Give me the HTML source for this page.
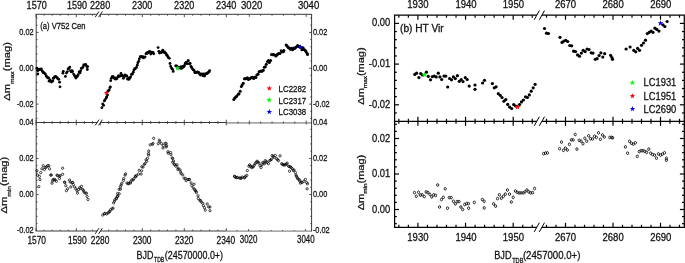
<!DOCTYPE html>
<html lang="en"><head><meta charset="utf-8"><title>Light-curve maxima and minima variations</title>
<style>
html,body{margin:0;padding:0;background:#fff;}
body{width:685px;height:263px;overflow:hidden;}
svg{display:block;}
svg text{font-family:"Liberation Sans",Arial,Helvetica,sans-serif;stroke:#111;stroke-width:0.28px;paint-order:stroke fill;}
svg{will-change:transform;opacity:0.999;}
</style></head><body>
<svg width="685" height="263" viewBox="0 0 685 263">
<rect width="685" height="263" fill="#fff"/>
<g id="panel-a">
<line x1="35.70" y1="14.30" x2="312.10" y2="14.30" stroke="#3a3a3a" stroke-width="1.0"/>
<line x1="35.70" y1="122.50" x2="226.40" y2="122.50" stroke="#3a3a3a" stroke-width="1.0"/>
<line x1="226.40" y1="122.90" x2="311.60" y2="122.90" stroke="#a6a6a6" stroke-width="1.9"/>
<line x1="35.70" y1="231.00" x2="226.40" y2="231.00" stroke="#3a3a3a" stroke-width="1.0"/>
<line x1="226.40" y1="231.10" x2="311.60" y2="231.10" stroke="#8c8c8c" stroke-width="1.4"/>
<line x1="36.20" y1="14.30" x2="36.20" y2="231.00" stroke="#3a3a3a" stroke-width="1.0"/>
<line x1="311.60" y1="14.30" x2="311.60" y2="231.50" stroke="#3a3a3a" stroke-width="1.0"/>
<line x1="44.14" y1="14.30" x2="44.14" y2="15.70" stroke="#3a3a3a" stroke-width="0.9"/>
<line x1="44.14" y1="121.10" x2="44.14" y2="123.90" stroke="#3a3a3a" stroke-width="0.9"/>
<line x1="44.14" y1="229.60" x2="44.14" y2="231.00" stroke="#3a3a3a" stroke-width="0.9"/>
<line x1="52.18" y1="14.30" x2="52.18" y2="15.70" stroke="#3a3a3a" stroke-width="0.9"/>
<line x1="52.18" y1="121.10" x2="52.18" y2="123.90" stroke="#3a3a3a" stroke-width="0.9"/>
<line x1="52.18" y1="229.60" x2="52.18" y2="231.00" stroke="#3a3a3a" stroke-width="0.9"/>
<line x1="60.22" y1="14.30" x2="60.22" y2="15.70" stroke="#3a3a3a" stroke-width="0.9"/>
<line x1="60.22" y1="121.10" x2="60.22" y2="123.90" stroke="#3a3a3a" stroke-width="0.9"/>
<line x1="60.22" y1="229.60" x2="60.22" y2="231.00" stroke="#3a3a3a" stroke-width="0.9"/>
<line x1="68.26" y1="14.30" x2="68.26" y2="15.70" stroke="#3a3a3a" stroke-width="0.9"/>
<line x1="68.26" y1="121.10" x2="68.26" y2="123.90" stroke="#3a3a3a" stroke-width="0.9"/>
<line x1="68.26" y1="229.60" x2="68.26" y2="231.00" stroke="#3a3a3a" stroke-width="0.9"/>
<line x1="84.34" y1="14.30" x2="84.34" y2="15.70" stroke="#3a3a3a" stroke-width="0.9"/>
<line x1="84.34" y1="121.10" x2="84.34" y2="123.90" stroke="#3a3a3a" stroke-width="0.9"/>
<line x1="84.34" y1="229.60" x2="84.34" y2="231.00" stroke="#3a3a3a" stroke-width="0.9"/>
<line x1="92.38" y1="14.30" x2="92.38" y2="15.70" stroke="#3a3a3a" stroke-width="0.9"/>
<line x1="92.38" y1="121.10" x2="92.38" y2="123.90" stroke="#3a3a3a" stroke-width="0.9"/>
<line x1="92.38" y1="229.60" x2="92.38" y2="231.00" stroke="#3a3a3a" stroke-width="0.9"/>
<line x1="108.70" y1="14.30" x2="108.70" y2="15.70" stroke="#3a3a3a" stroke-width="0.9"/>
<line x1="108.70" y1="121.10" x2="108.70" y2="123.90" stroke="#3a3a3a" stroke-width="0.9"/>
<line x1="108.70" y1="229.60" x2="108.70" y2="231.00" stroke="#3a3a3a" stroke-width="0.9"/>
<line x1="117.10" y1="14.30" x2="117.10" y2="15.70" stroke="#3a3a3a" stroke-width="0.9"/>
<line x1="117.10" y1="121.10" x2="117.10" y2="123.90" stroke="#3a3a3a" stroke-width="0.9"/>
<line x1="117.10" y1="229.60" x2="117.10" y2="231.00" stroke="#3a3a3a" stroke-width="0.9"/>
<line x1="125.50" y1="14.30" x2="125.50" y2="15.70" stroke="#3a3a3a" stroke-width="0.9"/>
<line x1="125.50" y1="121.10" x2="125.50" y2="123.90" stroke="#3a3a3a" stroke-width="0.9"/>
<line x1="125.50" y1="229.60" x2="125.50" y2="231.00" stroke="#3a3a3a" stroke-width="0.9"/>
<line x1="133.90" y1="14.30" x2="133.90" y2="15.70" stroke="#3a3a3a" stroke-width="0.9"/>
<line x1="133.90" y1="121.10" x2="133.90" y2="123.90" stroke="#3a3a3a" stroke-width="0.9"/>
<line x1="133.90" y1="229.60" x2="133.90" y2="231.00" stroke="#3a3a3a" stroke-width="0.9"/>
<line x1="150.70" y1="14.30" x2="150.70" y2="15.70" stroke="#3a3a3a" stroke-width="0.9"/>
<line x1="150.70" y1="121.10" x2="150.70" y2="123.90" stroke="#3a3a3a" stroke-width="0.9"/>
<line x1="150.70" y1="229.60" x2="150.70" y2="231.00" stroke="#3a3a3a" stroke-width="0.9"/>
<line x1="159.10" y1="14.30" x2="159.10" y2="15.70" stroke="#3a3a3a" stroke-width="0.9"/>
<line x1="159.10" y1="121.10" x2="159.10" y2="123.90" stroke="#3a3a3a" stroke-width="0.9"/>
<line x1="159.10" y1="229.60" x2="159.10" y2="231.00" stroke="#3a3a3a" stroke-width="0.9"/>
<line x1="167.50" y1="14.30" x2="167.50" y2="15.70" stroke="#3a3a3a" stroke-width="0.9"/>
<line x1="167.50" y1="121.10" x2="167.50" y2="123.90" stroke="#3a3a3a" stroke-width="0.9"/>
<line x1="167.50" y1="229.60" x2="167.50" y2="231.00" stroke="#3a3a3a" stroke-width="0.9"/>
<line x1="175.90" y1="14.30" x2="175.90" y2="15.70" stroke="#3a3a3a" stroke-width="0.9"/>
<line x1="175.90" y1="121.10" x2="175.90" y2="123.90" stroke="#3a3a3a" stroke-width="0.9"/>
<line x1="175.90" y1="229.60" x2="175.90" y2="231.00" stroke="#3a3a3a" stroke-width="0.9"/>
<line x1="192.70" y1="14.30" x2="192.70" y2="15.70" stroke="#3a3a3a" stroke-width="0.9"/>
<line x1="192.70" y1="121.10" x2="192.70" y2="123.90" stroke="#3a3a3a" stroke-width="0.9"/>
<line x1="192.70" y1="229.60" x2="192.70" y2="231.00" stroke="#3a3a3a" stroke-width="0.9"/>
<line x1="201.10" y1="14.30" x2="201.10" y2="15.70" stroke="#3a3a3a" stroke-width="0.9"/>
<line x1="201.10" y1="121.10" x2="201.10" y2="123.90" stroke="#3a3a3a" stroke-width="0.9"/>
<line x1="201.10" y1="229.60" x2="201.10" y2="231.00" stroke="#3a3a3a" stroke-width="0.9"/>
<line x1="209.50" y1="14.30" x2="209.50" y2="15.70" stroke="#3a3a3a" stroke-width="0.9"/>
<line x1="209.50" y1="121.10" x2="209.50" y2="123.90" stroke="#3a3a3a" stroke-width="0.9"/>
<line x1="209.50" y1="229.60" x2="209.50" y2="231.00" stroke="#3a3a3a" stroke-width="0.9"/>
<line x1="217.90" y1="14.30" x2="217.90" y2="15.70" stroke="#3a3a3a" stroke-width="0.9"/>
<line x1="217.90" y1="121.10" x2="217.90" y2="123.90" stroke="#3a3a3a" stroke-width="0.9"/>
<line x1="217.90" y1="229.60" x2="217.90" y2="231.00" stroke="#3a3a3a" stroke-width="0.9"/>
<line x1="36.10" y1="14.30" x2="36.10" y2="17.10" stroke="#3a3a3a" stroke-width="0.9"/>
<line x1="36.10" y1="119.70" x2="36.10" y2="125.30" stroke="#3a3a3a" stroke-width="0.9"/>
<line x1="36.10" y1="228.20" x2="36.10" y2="231.00" stroke="#3a3a3a" stroke-width="0.9"/>
<line x1="76.30" y1="14.30" x2="76.30" y2="17.10" stroke="#3a3a3a" stroke-width="0.9"/>
<line x1="76.30" y1="119.70" x2="76.30" y2="125.30" stroke="#3a3a3a" stroke-width="0.9"/>
<line x1="76.30" y1="228.20" x2="76.30" y2="231.00" stroke="#3a3a3a" stroke-width="0.9"/>
<line x1="100.30" y1="14.30" x2="100.30" y2="17.10" stroke="#3a3a3a" stroke-width="0.9"/>
<line x1="100.30" y1="119.70" x2="100.30" y2="125.30" stroke="#3a3a3a" stroke-width="0.9"/>
<line x1="100.30" y1="228.20" x2="100.30" y2="231.00" stroke="#3a3a3a" stroke-width="0.9"/>
<line x1="142.30" y1="14.30" x2="142.30" y2="17.10" stroke="#3a3a3a" stroke-width="0.9"/>
<line x1="142.30" y1="119.70" x2="142.30" y2="125.30" stroke="#3a3a3a" stroke-width="0.9"/>
<line x1="142.30" y1="228.20" x2="142.30" y2="231.00" stroke="#3a3a3a" stroke-width="0.9"/>
<line x1="184.30" y1="14.30" x2="184.30" y2="17.10" stroke="#3a3a3a" stroke-width="0.9"/>
<line x1="184.30" y1="119.70" x2="184.30" y2="125.30" stroke="#3a3a3a" stroke-width="0.9"/>
<line x1="184.30" y1="228.20" x2="184.30" y2="231.00" stroke="#3a3a3a" stroke-width="0.9"/>
<line x1="226.30" y1="14.30" x2="226.30" y2="17.10" stroke="#3a3a3a" stroke-width="0.9"/>
<line x1="226.30" y1="119.70" x2="226.30" y2="125.30" stroke="#3a3a3a" stroke-width="0.9"/>
<line x1="226.30" y1="228.20" x2="226.30" y2="231.00" stroke="#3a3a3a" stroke-width="0.9"/>
<line x1="237.92" y1="14.30" x2="237.92" y2="15.80" stroke="#444" stroke-width="0.9"/>
<line x1="237.92" y1="121.50" x2="237.92" y2="123.50" stroke="#444" stroke-width="0.9"/>
<line x1="237.12" y1="230.00" x2="237.12" y2="231.00" stroke="#444" stroke-width="0.9"/>
<line x1="260.68" y1="14.30" x2="260.68" y2="15.80" stroke="#444" stroke-width="0.9"/>
<line x1="260.68" y1="121.50" x2="260.68" y2="123.50" stroke="#444" stroke-width="0.9"/>
<line x1="259.88" y1="230.00" x2="259.88" y2="231.00" stroke="#444" stroke-width="0.9"/>
<line x1="272.06" y1="14.30" x2="272.06" y2="15.80" stroke="#444" stroke-width="0.9"/>
<line x1="272.06" y1="121.50" x2="272.06" y2="123.50" stroke="#444" stroke-width="0.9"/>
<line x1="271.26" y1="230.00" x2="271.26" y2="231.00" stroke="#444" stroke-width="0.9"/>
<line x1="283.44" y1="14.30" x2="283.44" y2="15.80" stroke="#444" stroke-width="0.9"/>
<line x1="283.44" y1="121.50" x2="283.44" y2="123.50" stroke="#444" stroke-width="0.9"/>
<line x1="282.64" y1="230.00" x2="282.64" y2="231.00" stroke="#444" stroke-width="0.9"/>
<line x1="294.82" y1="14.30" x2="294.82" y2="15.80" stroke="#444" stroke-width="0.9"/>
<line x1="294.82" y1="121.50" x2="294.82" y2="123.50" stroke="#444" stroke-width="0.9"/>
<line x1="294.02" y1="230.00" x2="294.02" y2="231.00" stroke="#444" stroke-width="0.9"/>
<line x1="249.30" y1="14.30" x2="249.30" y2="16.80" stroke="#444" stroke-width="0.9"/>
<line x1="249.30" y1="120.60" x2="249.30" y2="124.40" stroke="#444" stroke-width="0.9"/>
<line x1="248.50" y1="229.10" x2="248.50" y2="231.00" stroke="#444" stroke-width="0.9"/>
<line x1="306.20" y1="14.30" x2="306.20" y2="16.80" stroke="#444" stroke-width="0.9"/>
<line x1="306.20" y1="120.60" x2="306.20" y2="124.40" stroke="#444" stroke-width="0.9"/>
<line x1="305.40" y1="229.10" x2="305.40" y2="231.00" stroke="#444" stroke-width="0.9"/>
<polygon points="95.25,17.10 98.95,11.50 102.35,11.50 98.65,17.10" fill="#fff"/>
<line x1="95.25" y1="17.10" x2="98.95" y2="11.50" stroke="#1a1a1a" stroke-width="1.0"/>
<line x1="98.65" y1="17.10" x2="102.35" y2="11.50" stroke="#1a1a1a" stroke-width="1.0"/>
<polygon points="95.25,125.30 98.95,119.70 102.35,119.70 98.65,125.30" fill="#fff"/>
<line x1="95.25" y1="125.30" x2="98.95" y2="119.70" stroke="#1a1a1a" stroke-width="1.0"/>
<line x1="98.65" y1="125.30" x2="102.35" y2="119.70" stroke="#1a1a1a" stroke-width="1.0"/>
<polygon points="95.25,233.80 98.95,228.20 102.35,228.20 98.65,233.80" fill="#fff"/>
<line x1="95.25" y1="233.80" x2="98.95" y2="228.20" stroke="#1a1a1a" stroke-width="1.0"/>
<line x1="98.65" y1="233.80" x2="102.35" y2="228.20" stroke="#1a1a1a" stroke-width="1.0"/>
<line x1="36.20" y1="118.44" x2="37.50" y2="118.44" stroke="#3a3a3a" stroke-width="0.9"/>
<line x1="310.30" y1="118.44" x2="311.60" y2="118.44" stroke="#3a3a3a" stroke-width="0.9"/>
<line x1="36.20" y1="111.27" x2="37.50" y2="111.27" stroke="#3a3a3a" stroke-width="0.9"/>
<line x1="310.30" y1="111.27" x2="311.60" y2="111.27" stroke="#3a3a3a" stroke-width="0.9"/>
<line x1="36.20" y1="104.10" x2="38.60" y2="104.10" stroke="#3a3a3a" stroke-width="0.9"/>
<line x1="309.20" y1="104.10" x2="311.60" y2="104.10" stroke="#3a3a3a" stroke-width="0.9"/>
<line x1="36.20" y1="96.93" x2="37.50" y2="96.93" stroke="#3a3a3a" stroke-width="0.9"/>
<line x1="310.30" y1="96.93" x2="311.60" y2="96.93" stroke="#3a3a3a" stroke-width="0.9"/>
<line x1="36.20" y1="89.76" x2="37.50" y2="89.76" stroke="#3a3a3a" stroke-width="0.9"/>
<line x1="310.30" y1="89.76" x2="311.60" y2="89.76" stroke="#3a3a3a" stroke-width="0.9"/>
<line x1="36.20" y1="82.59" x2="37.50" y2="82.59" stroke="#3a3a3a" stroke-width="0.9"/>
<line x1="310.30" y1="82.59" x2="311.60" y2="82.59" stroke="#3a3a3a" stroke-width="0.9"/>
<line x1="36.20" y1="75.42" x2="37.50" y2="75.42" stroke="#3a3a3a" stroke-width="0.9"/>
<line x1="310.30" y1="75.42" x2="311.60" y2="75.42" stroke="#3a3a3a" stroke-width="0.9"/>
<line x1="36.20" y1="68.25" x2="38.60" y2="68.25" stroke="#3a3a3a" stroke-width="0.9"/>
<line x1="309.20" y1="68.25" x2="311.60" y2="68.25" stroke="#3a3a3a" stroke-width="0.9"/>
<line x1="36.20" y1="61.08" x2="37.50" y2="61.08" stroke="#3a3a3a" stroke-width="0.9"/>
<line x1="310.30" y1="61.08" x2="311.60" y2="61.08" stroke="#3a3a3a" stroke-width="0.9"/>
<line x1="36.20" y1="53.91" x2="37.50" y2="53.91" stroke="#3a3a3a" stroke-width="0.9"/>
<line x1="310.30" y1="53.91" x2="311.60" y2="53.91" stroke="#3a3a3a" stroke-width="0.9"/>
<line x1="36.20" y1="46.74" x2="37.50" y2="46.74" stroke="#3a3a3a" stroke-width="0.9"/>
<line x1="310.30" y1="46.74" x2="311.60" y2="46.74" stroke="#3a3a3a" stroke-width="0.9"/>
<line x1="36.20" y1="39.57" x2="37.50" y2="39.57" stroke="#3a3a3a" stroke-width="0.9"/>
<line x1="310.30" y1="39.57" x2="311.60" y2="39.57" stroke="#3a3a3a" stroke-width="0.9"/>
<line x1="36.20" y1="32.40" x2="38.60" y2="32.40" stroke="#3a3a3a" stroke-width="0.9"/>
<line x1="309.20" y1="32.40" x2="311.60" y2="32.40" stroke="#3a3a3a" stroke-width="0.9"/>
<line x1="36.20" y1="25.23" x2="37.50" y2="25.23" stroke="#3a3a3a" stroke-width="0.9"/>
<line x1="310.30" y1="25.23" x2="311.60" y2="25.23" stroke="#3a3a3a" stroke-width="0.9"/>
<line x1="36.20" y1="18.06" x2="37.50" y2="18.06" stroke="#3a3a3a" stroke-width="0.9"/>
<line x1="310.30" y1="18.06" x2="311.60" y2="18.06" stroke="#3a3a3a" stroke-width="0.9"/>
<line x1="36.20" y1="223.56" x2="37.50" y2="223.56" stroke="#3a3a3a" stroke-width="0.9"/>
<line x1="310.30" y1="223.56" x2="311.60" y2="223.56" stroke="#3a3a3a" stroke-width="0.9"/>
<line x1="36.20" y1="216.32" x2="37.50" y2="216.32" stroke="#3a3a3a" stroke-width="0.9"/>
<line x1="310.30" y1="216.32" x2="311.60" y2="216.32" stroke="#3a3a3a" stroke-width="0.9"/>
<line x1="36.20" y1="209.08" x2="37.50" y2="209.08" stroke="#3a3a3a" stroke-width="0.9"/>
<line x1="310.30" y1="209.08" x2="311.60" y2="209.08" stroke="#3a3a3a" stroke-width="0.9"/>
<line x1="36.20" y1="201.84" x2="37.50" y2="201.84" stroke="#3a3a3a" stroke-width="0.9"/>
<line x1="310.30" y1="201.84" x2="311.60" y2="201.84" stroke="#3a3a3a" stroke-width="0.9"/>
<line x1="36.20" y1="194.60" x2="38.60" y2="194.60" stroke="#3a3a3a" stroke-width="0.9"/>
<line x1="309.20" y1="194.60" x2="311.60" y2="194.60" stroke="#3a3a3a" stroke-width="0.9"/>
<line x1="36.20" y1="187.36" x2="37.50" y2="187.36" stroke="#3a3a3a" stroke-width="0.9"/>
<line x1="310.30" y1="187.36" x2="311.60" y2="187.36" stroke="#3a3a3a" stroke-width="0.9"/>
<line x1="36.20" y1="180.12" x2="37.50" y2="180.12" stroke="#3a3a3a" stroke-width="0.9"/>
<line x1="310.30" y1="180.12" x2="311.60" y2="180.12" stroke="#3a3a3a" stroke-width="0.9"/>
<line x1="36.20" y1="172.88" x2="37.50" y2="172.88" stroke="#3a3a3a" stroke-width="0.9"/>
<line x1="310.30" y1="172.88" x2="311.60" y2="172.88" stroke="#3a3a3a" stroke-width="0.9"/>
<line x1="36.20" y1="165.64" x2="37.50" y2="165.64" stroke="#3a3a3a" stroke-width="0.9"/>
<line x1="310.30" y1="165.64" x2="311.60" y2="165.64" stroke="#3a3a3a" stroke-width="0.9"/>
<line x1="36.20" y1="158.40" x2="38.60" y2="158.40" stroke="#3a3a3a" stroke-width="0.9"/>
<line x1="309.20" y1="158.40" x2="311.60" y2="158.40" stroke="#3a3a3a" stroke-width="0.9"/>
<line x1="36.20" y1="151.16" x2="37.50" y2="151.16" stroke="#3a3a3a" stroke-width="0.9"/>
<line x1="310.30" y1="151.16" x2="311.60" y2="151.16" stroke="#3a3a3a" stroke-width="0.9"/>
<line x1="36.20" y1="143.92" x2="37.50" y2="143.92" stroke="#3a3a3a" stroke-width="0.9"/>
<line x1="310.30" y1="143.92" x2="311.60" y2="143.92" stroke="#3a3a3a" stroke-width="0.9"/>
<line x1="36.20" y1="136.68" x2="37.50" y2="136.68" stroke="#3a3a3a" stroke-width="0.9"/>
<line x1="310.30" y1="136.68" x2="311.60" y2="136.68" stroke="#3a3a3a" stroke-width="0.9"/>
<line x1="36.20" y1="129.44" x2="37.50" y2="129.44" stroke="#3a3a3a" stroke-width="0.9"/>
<line x1="310.30" y1="129.44" x2="311.60" y2="129.44" stroke="#3a3a3a" stroke-width="0.9"/>
<text transform="translate(36.70,9.10) scale(0.855,1)" font-size="10.6" text-anchor="middle" fill="#111" >1570</text>
<text transform="translate(77.00,9.10) scale(0.855,1)" font-size="10.6" text-anchor="middle" fill="#111" >1590</text>
<text transform="translate(100.10,9.10) scale(0.855,1)" font-size="10.6" text-anchor="middle" fill="#111" >2280</text>
<text transform="translate(142.20,9.10) scale(0.855,1)" font-size="10.6" text-anchor="middle" fill="#111" >2300</text>
<text transform="translate(184.20,9.10) scale(0.855,1)" font-size="10.6" text-anchor="middle" fill="#111" >2320</text>
<text transform="translate(226.20,9.10) scale(0.855,1)" font-size="10.6" text-anchor="middle" fill="#111" >2340</text>
<text transform="translate(251.70,9.10) scale(0.905,1)" font-size="10.6" text-anchor="middle" fill="#111" >3020</text>
<text transform="translate(308.60,9.10) scale(0.905,1)" font-size="10.6" text-anchor="middle" fill="#111" >3040</text>
<text transform="translate(36.70,244.00) scale(0.79,1)" font-size="10.6" text-anchor="middle" fill="#111" >1570</text>
<text transform="translate(77.30,244.00) scale(0.79,1)" font-size="10.6" text-anchor="middle" fill="#111" >1590</text>
<text transform="translate(100.10,244.00) scale(0.79,1)" font-size="10.6" text-anchor="middle" fill="#111" >2280</text>
<text transform="translate(142.20,244.00) scale(0.79,1)" font-size="10.6" text-anchor="middle" fill="#111" >2300</text>
<text transform="translate(184.20,244.00) scale(0.79,1)" font-size="10.6" text-anchor="middle" fill="#111" >2320</text>
<text transform="translate(225.80,244.10) scale(0.79,1)" font-size="10.6" text-anchor="middle" fill="#111" >2340</text>
<text transform="translate(248.60,243.10) scale(0.765,1)" font-size="10.4" text-anchor="middle" fill="#111" >3020</text>
<text transform="translate(305.80,243.10) scale(0.765,1)" font-size="10.4" text-anchor="middle" fill="#111" >3040</text>
<text transform="translate(33.60,35.00) scale(0.785,1)" font-size="9.4" text-anchor="end" fill="#111" >0.02</text>
<text transform="translate(33.60,70.80) scale(0.785,1)" font-size="9.4" text-anchor="end" fill="#111" >0.00</text>
<text transform="translate(33.60,107.10) scale(0.785,1)" font-size="9.4" text-anchor="end" fill="#111" >-0.02</text>
<text transform="translate(33.60,125.00) scale(0.785,1)" font-size="9.4" text-anchor="end" fill="#111" >0.04</text>
<text transform="translate(33.60,160.90) scale(0.785,1)" font-size="9.4" text-anchor="end" fill="#111" >0.02</text>
<text transform="translate(33.60,197.10) scale(0.785,1)" font-size="9.4" text-anchor="end" fill="#111" >0.00</text>
<text transform="translate(33.60,233.00) scale(0.785,1)" font-size="9.4" text-anchor="end" fill="#111" >-0.02</text>
<text transform="translate(312.90,34.90) scale(0.785,1)" font-size="9.4" text-anchor="start" fill="#111" >0.02</text>
<text transform="translate(312.90,71.00) scale(0.785,1)" font-size="9.4" text-anchor="start" fill="#111" >0.00</text>
<text transform="translate(312.90,107.30) scale(0.785,1)" font-size="9.4" text-anchor="start" fill="#111" >-0.02</text>
<text transform="translate(312.90,124.70) scale(0.785,1)" font-size="9.4" text-anchor="start" fill="#111" >0.04</text>
<text transform="translate(312.90,160.60) scale(0.785,1)" font-size="9.4" text-anchor="start" fill="#111" >0.02</text>
<text transform="translate(312.90,196.80) scale(0.785,1)" font-size="9.4" text-anchor="start" fill="#111" >0.00</text>
<text transform="translate(312.90,232.60) scale(0.785,1)" font-size="9.4" text-anchor="start" fill="#111" >-0.02</text>
<text transform="translate(40.20,29.00) scale(0.82,1)" font-size="9.3" text-anchor="start" fill="#111" >(a) V752 Cen</text>
<text transform="translate(9.80,71.40) rotate(-90) scale(1,0.82)" font-size="11.2" text-anchor="middle" fill="#111">Δm<tspan font-size="6.7" dy="5.00">max</tspan><tspan dy="-5.00">(mag)</tspan></text>
<text transform="translate(7.30,185.10) rotate(-90) scale(1,0.82)" font-size="11.2" text-anchor="middle" fill="#111">Δm<tspan font-size="6.7" dy="5.00">min</tspan><tspan dy="-5.00">(mag)</tspan></text>
<text transform="translate(136.6,258.7) scale(0.80,1)" font-size="11.2" fill="#111">BJD</text>
<text transform="translate(154.0,262.2) scale(0.78,1)" font-size="6.6" fill="#111">TDB</text>
<text transform="translate(164.8,258.7) scale(0.797,1)" font-size="11.2" fill="#111">(24570000.0+)</text>
<g fill="#000">
<circle cx="36.9" cy="68.2" r="1.4"/>
<circle cx="37.8" cy="73.9" r="1.4"/>
<circle cx="37.6" cy="70.5" r="1.4"/>
<circle cx="38.2" cy="70.3" r="1.4"/>
<circle cx="39.3" cy="69.3" r="1.4"/>
<circle cx="39.8" cy="69.2" r="1.4"/>
<circle cx="40.8" cy="69.6" r="1.4"/>
<circle cx="41.4" cy="68.9" r="1.4"/>
<circle cx="42.4" cy="71.2" r="1.4"/>
<circle cx="43.2" cy="72.6" r="1.4"/>
<circle cx="43.8" cy="72.7" r="1.4"/>
<circle cx="44.9" cy="73.7" r="1.4"/>
<circle cx="45.3" cy="74.1" r="1.4"/>
<circle cx="46.2" cy="76.0" r="1.4"/>
<circle cx="46.9" cy="76.8" r="1.4"/>
<circle cx="47.8" cy="77.9" r="1.4"/>
<circle cx="48.7" cy="77.8" r="1.4"/>
<circle cx="49.1" cy="81.2" r="1.4"/>
<circle cx="49.9" cy="80.0" r="1.4"/>
<circle cx="50.7" cy="81.0" r="1.4"/>
<circle cx="51.5" cy="82.0" r="1.4"/>
<circle cx="52.8" cy="81.0" r="1.4"/>
<circle cx="53.3" cy="78.3" r="1.4"/>
<circle cx="53.9" cy="78.0" r="1.4"/>
<circle cx="54.7" cy="76.8" r="1.4"/>
<circle cx="55.6" cy="76.3" r="1.4"/>
<circle cx="56.4" cy="77.1" r="1.4"/>
<circle cx="57.3" cy="77.9" r="1.4"/>
<circle cx="58.0" cy="78.9" r="1.4"/>
<circle cx="58.8" cy="79.3" r="1.4"/>
<circle cx="59.6" cy="82.2" r="1.4"/>
<circle cx="60.0" cy="86.8" r="1.4"/>
<circle cx="62.9" cy="73.2" r="1.4"/>
<circle cx="63.3" cy="71.3" r="1.4"/>
<circle cx="65.4" cy="76.4" r="1.4"/>
<circle cx="66.5" cy="73.0" r="1.4"/>
<circle cx="67.4" cy="71.6" r="1.4"/>
<circle cx="68.1" cy="68.9" r="1.4"/>
<circle cx="68.9" cy="68.4" r="1.4"/>
<circle cx="69.8" cy="67.1" r="1.4"/>
<circle cx="70.5" cy="70.8" r="1.4"/>
<circle cx="71.2" cy="71.8" r="1.4"/>
<circle cx="72.0" cy="70.6" r="1.4"/>
<circle cx="72.6" cy="71.6" r="1.4"/>
<circle cx="73.6" cy="74.1" r="1.4"/>
<circle cx="74.4" cy="75.4" r="1.4"/>
<circle cx="75.2" cy="76.7" r="1.4"/>
<circle cx="75.9" cy="78.1" r="1.4"/>
<circle cx="76.9" cy="76.1" r="1.4"/>
<circle cx="77.3" cy="76.6" r="1.4"/>
<circle cx="78.2" cy="74.7" r="1.4"/>
<circle cx="79.1" cy="71.9" r="1.4"/>
<circle cx="80.1" cy="72.8" r="1.4"/>
<circle cx="80.6" cy="70.8" r="1.4"/>
<circle cx="81.3" cy="68.4" r="1.4"/>
<circle cx="82.1" cy="68.1" r="1.4"/>
<circle cx="83.0" cy="67.1" r="1.4"/>
<circle cx="83.7" cy="64.9" r="1.4"/>
<circle cx="84.3" cy="65.1" r="1.4"/>
<circle cx="85.4" cy="64.6" r="1.4"/>
<circle cx="85.8" cy="64.6" r="1.4"/>
<circle cx="86.8" cy="66.6" r="1.4"/>
<circle cx="87.7" cy="66.6" r="1.4"/>
<circle cx="87.3" cy="69.5" r="1.4"/>
<circle cx="101.9" cy="107.7" r="1.4"/>
<circle cx="102.7" cy="103.9" r="1.4"/>
<circle cx="103.6" cy="105.3" r="1.4"/>
<circle cx="104.4" cy="100.9" r="1.4"/>
<circle cx="105.1" cy="99.6" r="1.4"/>
<circle cx="106.2" cy="98.0" r="1.4"/>
<circle cx="106.7" cy="96.8" r="1.4"/>
<circle cx="107.5" cy="95.0" r="1.4"/>
<circle cx="108.2" cy="90.9" r="1.4"/>
<circle cx="109.2" cy="89.9" r="1.4"/>
<circle cx="110.0" cy="87.6" r="1.4"/>
<circle cx="110.3" cy="86.8" r="1.4"/>
<circle cx="110.7" cy="80.7" r="1.4"/>
<circle cx="111.3" cy="78.3" r="1.4"/>
<circle cx="112.2" cy="76.6" r="1.4"/>
<circle cx="113.2" cy="76.7" r="1.4"/>
<circle cx="114.0" cy="77.9" r="1.4"/>
<circle cx="114.7" cy="78.6" r="1.4"/>
<circle cx="115.6" cy="79.2" r="1.4"/>
<circle cx="116.2" cy="77.8" r="1.4"/>
<circle cx="116.9" cy="78.7" r="1.4"/>
<circle cx="118.1" cy="76.9" r="1.4"/>
<circle cx="118.6" cy="75.7" r="1.4"/>
<circle cx="119.5" cy="76.3" r="1.4"/>
<circle cx="120.6" cy="75.9" r="1.4"/>
<circle cx="121.0" cy="73.5" r="1.4"/>
<circle cx="122.1" cy="75.4" r="1.4"/>
<circle cx="122.5" cy="75.7" r="1.4"/>
<circle cx="123.3" cy="78.3" r="1.4"/>
<circle cx="124.4" cy="76.5" r="1.4"/>
<circle cx="125.1" cy="74.8" r="1.4"/>
<circle cx="125.9" cy="75.8" r="1.4"/>
<circle cx="126.8" cy="76.0" r="1.4"/>
<circle cx="127.4" cy="79.0" r="1.4"/>
<circle cx="128.5" cy="77.9" r="1.4"/>
<circle cx="128.9" cy="79.4" r="1.4"/>
<circle cx="130.0" cy="78.1" r="1.4"/>
<circle cx="130.6" cy="76.8" r="1.4"/>
<circle cx="131.4" cy="74.4" r="1.4"/>
<circle cx="132.5" cy="74.0" r="1.4"/>
<circle cx="133.3" cy="72.2" r="1.4"/>
<circle cx="133.9" cy="70.1" r="1.4"/>
<circle cx="134.7" cy="68.6" r="1.4"/>
<circle cx="135.3" cy="68.8" r="1.4"/>
<circle cx="136.5" cy="67.4" r="1.4"/>
<circle cx="137.3" cy="65.2" r="1.4"/>
<circle cx="137.8" cy="62.8" r="1.4"/>
<circle cx="138.7" cy="61.3" r="1.4"/>
<circle cx="139.3" cy="58.9" r="1.4"/>
<circle cx="140.3" cy="56.7" r="1.4"/>
<circle cx="141.0" cy="56.7" r="1.4"/>
<circle cx="141.9" cy="57.0" r="1.4"/>
<circle cx="142.8" cy="56.7" r="1.4"/>
<circle cx="143.3" cy="57.8" r="1.4"/>
<circle cx="144.2" cy="57.5" r="1.4"/>
<circle cx="145.1" cy="56.8" r="1.4"/>
<circle cx="146.0" cy="53.7" r="1.4"/>
<circle cx="146.8" cy="53.5" r="1.4"/>
<circle cx="147.4" cy="52.5" r="1.4"/>
<circle cx="148.4" cy="52.8" r="1.4"/>
<circle cx="149.2" cy="51.6" r="1.4"/>
<circle cx="149.8" cy="51.7" r="1.4"/>
<circle cx="150.7" cy="54.0" r="1.4"/>
<circle cx="151.4" cy="52.2" r="1.4"/>
<circle cx="152.3" cy="52.6" r="1.4"/>
<circle cx="153.0" cy="52.4" r="1.4"/>
<circle cx="153.7" cy="53.8" r="1.4"/>
<circle cx="158.1" cy="47.6" r="1.4"/>
<circle cx="158.8" cy="51.3" r="1.4"/>
<circle cx="159.5" cy="53.0" r="1.4"/>
<circle cx="160.5" cy="52.1" r="1.4"/>
<circle cx="161.2" cy="52.6" r="1.4"/>
<circle cx="162.0" cy="51.7" r="1.4"/>
<circle cx="162.8" cy="50.2" r="1.4"/>
<circle cx="163.5" cy="52.3" r="1.4"/>
<circle cx="164.5" cy="52.0" r="1.4"/>
<circle cx="165.2" cy="52.9" r="1.4"/>
<circle cx="166.0" cy="53.6" r="1.4"/>
<circle cx="166.8" cy="55.2" r="1.4"/>
<circle cx="167.5" cy="56.0" r="1.4"/>
<circle cx="168.3" cy="57.5" r="1.4"/>
<circle cx="169.3" cy="58.3" r="1.4"/>
<circle cx="170.0" cy="63.5" r="1.4"/>
<circle cx="170.7" cy="66.4" r="1.4"/>
<circle cx="171.7" cy="68.3" r="1.4"/>
<circle cx="172.4" cy="69.2" r="1.4"/>
<circle cx="173.2" cy="71.4" r="1.4"/>
<circle cx="175.7" cy="65.8" r="1.4"/>
<circle cx="176.5" cy="65.9" r="1.4"/>
<circle cx="177.1" cy="66.3" r="1.4"/>
<circle cx="177.9" cy="68.2" r="1.4"/>
<circle cx="178.9" cy="67.5" r="1.4"/>
<circle cx="179.9" cy="67.4" r="1.4"/>
<circle cx="180.6" cy="68.4" r="1.4"/>
<circle cx="181.1" cy="66.6" r="1.4"/>
<circle cx="182.0" cy="68.2" r="1.4"/>
<circle cx="183.1" cy="66.4" r="1.4"/>
<circle cx="183.8" cy="66.8" r="1.4"/>
<circle cx="184.5" cy="65.5" r="1.4"/>
<circle cx="185.3" cy="63.3" r="1.4"/>
<circle cx="186.0" cy="62.5" r="1.4"/>
<circle cx="187.0" cy="63.7" r="1.4"/>
<circle cx="188.0" cy="60.9" r="1.4"/>
<circle cx="188.3" cy="60.7" r="1.4"/>
<circle cx="189.2" cy="63.8" r="1.4"/>
<circle cx="190.2" cy="63.4" r="1.4"/>
<circle cx="191.0" cy="66.3" r="1.4"/>
<circle cx="191.5" cy="67.3" r="1.4"/>
<circle cx="192.5" cy="69.0" r="1.4"/>
<circle cx="193.3" cy="69.8" r="1.4"/>
<circle cx="194.1" cy="70.5" r="1.4"/>
<circle cx="194.8" cy="72.7" r="1.4"/>
<circle cx="195.7" cy="72.5" r="1.4"/>
<circle cx="196.3" cy="72.6" r="1.4"/>
<circle cx="197.4" cy="71.8" r="1.4"/>
<circle cx="198.2" cy="72.4" r="1.4"/>
<circle cx="198.9" cy="72.6" r="1.4"/>
<circle cx="199.7" cy="74.2" r="1.4"/>
<circle cx="200.5" cy="75.1" r="1.4"/>
<circle cx="201.2" cy="73.9" r="1.4"/>
<circle cx="202.2" cy="74.1" r="1.4"/>
<circle cx="202.9" cy="75.7" r="1.4"/>
<circle cx="203.8" cy="73.8" r="1.4"/>
<circle cx="204.6" cy="76.1" r="1.4"/>
<circle cx="205.4" cy="74.2" r="1.4"/>
<circle cx="206.0" cy="73.9" r="1.4"/>
<circle cx="206.8" cy="73.5" r="1.4"/>
<circle cx="207.7" cy="73.0" r="1.4"/>
<circle cx="208.6" cy="72.2" r="1.4"/>
<circle cx="209.1" cy="71.8" r="1.4"/>
<circle cx="209.6" cy="70.6" r="1.4"/>
<circle cx="233.8" cy="99.4" r="1.5"/>
<circle cx="234.7" cy="97.9" r="1.5"/>
<circle cx="235.9" cy="96.9" r="1.5"/>
<circle cx="236.8" cy="95.9" r="1.5"/>
<circle cx="238.3" cy="94.3" r="1.5"/>
<circle cx="239.0" cy="93.8" r="1.5"/>
<circle cx="240.2" cy="91.3" r="1.5"/>
<circle cx="241.3" cy="86.5" r="1.5"/>
<circle cx="242.1" cy="84.9" r="1.5"/>
<circle cx="243.3" cy="83.2" r="1.5"/>
<circle cx="244.4" cy="78.8" r="1.5"/>
<circle cx="245.4" cy="78.8" r="1.5"/>
<circle cx="246.4" cy="78.5" r="1.5"/>
<circle cx="247.4" cy="77.8" r="1.5"/>
<circle cx="248.4" cy="79.4" r="1.5"/>
<circle cx="249.7" cy="78.8" r="1.5"/>
<circle cx="250.7" cy="77.9" r="1.5"/>
<circle cx="251.6" cy="77.4" r="1.5"/>
<circle cx="252.6" cy="77.3" r="1.5"/>
<circle cx="253.7" cy="78.5" r="1.5"/>
<circle cx="254.7" cy="77.2" r="1.5"/>
<circle cx="255.9" cy="77.6" r="1.5"/>
<circle cx="256.8" cy="75.1" r="1.5"/>
<circle cx="258.0" cy="74.3" r="1.5"/>
<circle cx="259.1" cy="71.7" r="1.5"/>
<circle cx="260.0" cy="71.2" r="1.5"/>
<circle cx="261.2" cy="70.9" r="1.5"/>
<circle cx="262.0" cy="71.2" r="1.5"/>
<circle cx="263.3" cy="70.3" r="1.5"/>
<circle cx="264.3" cy="67.2" r="1.5"/>
<circle cx="265.3" cy="66.8" r="1.5"/>
<circle cx="266.3" cy="64.2" r="1.5"/>
<circle cx="267.5" cy="61.4" r="1.5"/>
<circle cx="268.5" cy="60.5" r="1.5"/>
<circle cx="269.4" cy="62.5" r="1.5"/>
<circle cx="270.6" cy="60.6" r="1.5"/>
<circle cx="271.5" cy="54.5" r="1.5"/>
<circle cx="272.7" cy="54.8" r="1.5"/>
<circle cx="273.5" cy="54.5" r="1.5"/>
<circle cx="274.6" cy="55.1" r="1.5"/>
<circle cx="275.8" cy="55.9" r="1.5"/>
<circle cx="276.9" cy="55.1" r="1.5"/>
<circle cx="277.8" cy="54.0" r="1.5"/>
<circle cx="278.9" cy="53.5" r="1.5"/>
<circle cx="280.0" cy="53.5" r="1.5"/>
<circle cx="281.2" cy="50.7" r="1.5"/>
<circle cx="282.1" cy="51.7" r="1.5"/>
<circle cx="283.4" cy="51.8" r="1.5"/>
<circle cx="283.9" cy="50.6" r="1.5"/>
<circle cx="286.2" cy="44.9" r="1.5"/>
<circle cx="287.1" cy="46.1" r="1.5"/>
<circle cx="288.2" cy="47.5" r="1.5"/>
<circle cx="289.2" cy="48.0" r="1.5"/>
<circle cx="290.4" cy="49.3" r="1.5"/>
<circle cx="291.4" cy="48.3" r="1.5"/>
<circle cx="292.6" cy="49.8" r="1.5"/>
<circle cx="293.5" cy="47.9" r="1.5"/>
<circle cx="294.6" cy="48.4" r="1.5"/>
<circle cx="295.6" cy="47.5" r="1.5"/>
<circle cx="296.9" cy="46.4" r="1.5"/>
<circle cx="297.7" cy="45.6" r="1.5"/>
<circle cx="298.7" cy="46.4" r="1.5"/>
<circle cx="299.7" cy="46.8" r="1.5"/>
<circle cx="301.1" cy="47.6" r="1.5"/>
<circle cx="301.9" cy="49.7" r="1.5"/>
<circle cx="303.0" cy="47.7" r="1.5"/>
<circle cx="304.1" cy="49.5" r="1.5"/>
<circle cx="305.3" cy="50.6" r="1.5"/>
<circle cx="306.1" cy="51.7" r="1.5"/>
<circle cx="307.2" cy="53.5" r="1.5"/>
<circle cx="307.5" cy="54.6" r="1.5"/>
</g>
<polygon points="106.50,90.10 107.17,91.88 109.07,91.97 107.58,93.15 108.09,94.98 106.50,93.93 104.91,94.98 105.42,93.15 103.93,91.97 105.83,91.88" fill="#ff0000"/>
<polygon points="177.70,65.50 178.37,67.28 180.27,67.37 178.78,68.55 179.29,70.38 177.70,69.33 176.11,70.38 176.62,68.55 175.13,67.37 177.03,67.28" fill="#00ff00"/>
<polygon points="300.50,44.30 301.17,46.08 303.07,46.17 301.58,47.35 302.09,49.18 300.50,48.13 298.91,49.18 299.42,47.35 297.93,46.17 299.83,46.08" fill="#0000ff"/>
<g fill="none" stroke="#000" stroke-width="0.74">
<circle cx="36.9" cy="170.7" r="1.13"/>
<circle cx="37.5" cy="175.1" r="1.13"/>
<circle cx="39.4" cy="176.4" r="1.13"/>
<circle cx="40.0" cy="179.5" r="1.13"/>
<circle cx="40.7" cy="172.6" r="1.13"/>
<circle cx="38.8" cy="186.6" r="1.13"/>
<circle cx="41.9" cy="168.8" r="1.13"/>
<circle cx="43.2" cy="165.7" r="1.13"/>
<circle cx="44.4" cy="169.5" r="1.13"/>
<circle cx="45.3" cy="167.6" r="1.13"/>
<circle cx="46.3" cy="167.0" r="1.13"/>
<circle cx="47.6" cy="165.7" r="1.13"/>
<circle cx="48.8" cy="165.7" r="1.13"/>
<circle cx="49.5" cy="168.8" r="1.13"/>
<circle cx="50.7" cy="175.1" r="1.13"/>
<circle cx="51.3" cy="175.0" r="1.13"/>
<circle cx="52.6" cy="180.7" r="1.13"/>
<circle cx="52.0" cy="183.2" r="1.13"/>
<circle cx="53.2" cy="179.5" r="1.13"/>
<circle cx="54.5" cy="179.4" r="1.13"/>
<circle cx="55.1" cy="180.1" r="1.13"/>
<circle cx="56.4" cy="181.3" r="1.13"/>
<circle cx="57.0" cy="175.1" r="1.13"/>
<circle cx="57.6" cy="175.6" r="1.13"/>
<circle cx="59.5" cy="176.4" r="1.13"/>
<circle cx="59.5" cy="178.5" r="1.13"/>
<circle cx="60.1" cy="175.6" r="1.13"/>
<circle cx="62.6" cy="168.2" r="1.13"/>
<circle cx="62.6" cy="174.3" r="1.13"/>
<circle cx="64.5" cy="182.0" r="1.13"/>
<circle cx="64.9" cy="182.6" r="1.13"/>
<circle cx="65.8" cy="185.7" r="1.13"/>
<circle cx="67.7" cy="188.8" r="1.13"/>
<circle cx="66.4" cy="190.7" r="1.13"/>
<circle cx="69.5" cy="180.0" r="1.13"/>
<circle cx="70.2" cy="182.0" r="1.13"/>
<circle cx="70.8" cy="186.9" r="1.13"/>
<circle cx="72.1" cy="182.6" r="1.13"/>
<circle cx="72.7" cy="182.4" r="1.13"/>
<circle cx="73.3" cy="184.4" r="1.13"/>
<circle cx="74.6" cy="186.9" r="1.13"/>
<circle cx="75.8" cy="188.8" r="1.13"/>
<circle cx="77.1" cy="190.7" r="1.13"/>
<circle cx="77.5" cy="193.2" r="1.13"/>
<circle cx="78.5" cy="189.5" r="1.13"/>
<circle cx="79.6" cy="187.6" r="1.13"/>
<circle cx="80.5" cy="188.5" r="1.13"/>
<circle cx="81.5" cy="186.3" r="1.13"/>
<circle cx="82.7" cy="189.5" r="1.13"/>
<circle cx="83.4" cy="190.5" r="1.13"/>
<circle cx="84.0" cy="192.0" r="1.13"/>
<circle cx="85.2" cy="193.2" r="1.13"/>
<circle cx="86.5" cy="193.2" r="1.13"/>
<circle cx="87.1" cy="196.4" r="1.13"/>
<circle cx="88.0" cy="199.5" r="1.13"/>
<circle cx="102.7" cy="215.1" r="1.13"/>
<circle cx="104.4" cy="213.8" r="1.13"/>
<circle cx="104.9" cy="213.3" r="1.13"/>
<circle cx="106.7" cy="214.0" r="1.13"/>
<circle cx="108.1" cy="212.9" r="1.13"/>
<circle cx="109.0" cy="212.1" r="1.13"/>
<circle cx="109.8" cy="211.4" r="1.13"/>
<circle cx="110.5" cy="209.8" r="1.13"/>
<circle cx="112.2" cy="208.8" r="1.13"/>
<circle cx="113.0" cy="208.1" r="1.13"/>
<circle cx="113.6" cy="202.9" r="1.13"/>
<circle cx="114.4" cy="201.3" r="1.13"/>
<circle cx="114.9" cy="199.8" r="1.13"/>
<circle cx="116.5" cy="198.7" r="1.13"/>
<circle cx="116.4" cy="197.9" r="1.13"/>
<circle cx="117.8" cy="196.1" r="1.13"/>
<circle cx="117.4" cy="196.4" r="1.13"/>
<circle cx="117.6" cy="193.5" r="1.13"/>
<circle cx="119.2" cy="193.8" r="1.13"/>
<circle cx="119.1" cy="189.3" r="1.13"/>
<circle cx="120.4" cy="186.7" r="1.13"/>
<circle cx="120.5" cy="189.2" r="1.13"/>
<circle cx="121.1" cy="185.0" r="1.13"/>
<circle cx="121.8" cy="183.3" r="1.13"/>
<circle cx="123.5" cy="180.4" r="1.13"/>
<circle cx="123.7" cy="178.6" r="1.13"/>
<circle cx="125.0" cy="175.1" r="1.13"/>
<circle cx="125.6" cy="173.8" r="1.13"/>
<circle cx="127.0" cy="183.0" r="1.13"/>
<circle cx="128.1" cy="183.9" r="1.13"/>
<circle cx="128.9" cy="183.4" r="1.13"/>
<circle cx="130.5" cy="183.0" r="1.13"/>
<circle cx="130.4" cy="181.8" r="1.13"/>
<circle cx="131.8" cy="180.0" r="1.13"/>
<circle cx="133.1" cy="180.0" r="1.13"/>
<circle cx="133.8" cy="178.7" r="1.13"/>
<circle cx="135.4" cy="176.3" r="1.13"/>
<circle cx="135.6" cy="176.7" r="1.13"/>
<circle cx="136.4" cy="175.6" r="1.13"/>
<circle cx="138.5" cy="174.1" r="1.13"/>
<circle cx="139.1" cy="170.3" r="1.13"/>
<circle cx="141.1" cy="174.1" r="1.13"/>
<circle cx="141.6" cy="170.8" r="1.13"/>
<circle cx="141.8" cy="166.7" r="1.13"/>
<circle cx="143.0" cy="167.1" r="1.13"/>
<circle cx="144.3" cy="164.3" r="1.13"/>
<circle cx="144.9" cy="163.7" r="1.13"/>
<circle cx="146.7" cy="161.4" r="1.13"/>
<circle cx="146.1" cy="159.8" r="1.13"/>
<circle cx="147.5" cy="158.4" r="1.13"/>
<circle cx="148.6" cy="155.1" r="1.13"/>
<circle cx="148.5" cy="153.5" r="1.13"/>
<circle cx="148.7" cy="150.9" r="1.13"/>
<circle cx="150.2" cy="144.8" r="1.13"/>
<circle cx="152.3" cy="144.4" r="1.13"/>
<circle cx="153.0" cy="143.4" r="1.13"/>
<circle cx="153.7" cy="138.3" r="1.13"/>
<circle cx="158.2" cy="143.7" r="1.13"/>
<circle cx="159.3" cy="140.1" r="1.13"/>
<circle cx="159.8" cy="141.7" r="1.13"/>
<circle cx="161.6" cy="143.7" r="1.13"/>
<circle cx="163.0" cy="148.0" r="1.13"/>
<circle cx="163.3" cy="145.6" r="1.13"/>
<circle cx="165.2" cy="143.3" r="1.13"/>
<circle cx="166.1" cy="147.0" r="1.13"/>
<circle cx="166.6" cy="145.9" r="1.13"/>
<circle cx="166.2" cy="143.6" r="1.13"/>
<circle cx="168.0" cy="151.7" r="1.13"/>
<circle cx="168.2" cy="153.2" r="1.13"/>
<circle cx="170.6" cy="152.5" r="1.13"/>
<circle cx="170.9" cy="154.6" r="1.13"/>
<circle cx="172.2" cy="157.9" r="1.13"/>
<circle cx="172.7" cy="158.5" r="1.13"/>
<circle cx="172.7" cy="162.2" r="1.13"/>
<circle cx="173.6" cy="161.1" r="1.13"/>
<circle cx="174.1" cy="164.2" r="1.13"/>
<circle cx="174.7" cy="164.6" r="1.13"/>
<circle cx="175.9" cy="166.2" r="1.13"/>
<circle cx="177.0" cy="164.8" r="1.13"/>
<circle cx="177.9" cy="169.5" r="1.13"/>
<circle cx="178.2" cy="168.2" r="1.13"/>
<circle cx="180.0" cy="169.9" r="1.13"/>
<circle cx="180.7" cy="172.1" r="1.13"/>
<circle cx="181.2" cy="173.7" r="1.13"/>
<circle cx="182.8" cy="174.9" r="1.13"/>
<circle cx="184.1" cy="178.2" r="1.13"/>
<circle cx="185.6" cy="178.5" r="1.13"/>
<circle cx="186.1" cy="180.7" r="1.13"/>
<circle cx="188.0" cy="179.5" r="1.13"/>
<circle cx="189.5" cy="179.6" r="1.13"/>
<circle cx="189.0" cy="179.4" r="1.13"/>
<circle cx="191.1" cy="182.9" r="1.13"/>
<circle cx="194.0" cy="184.3" r="1.13"/>
<circle cx="191.8" cy="185.6" r="1.13"/>
<circle cx="193.2" cy="188.0" r="1.13"/>
<circle cx="194.6" cy="189.4" r="1.13"/>
<circle cx="195.2" cy="190.5" r="1.13"/>
<circle cx="195.9" cy="191.3" r="1.13"/>
<circle cx="196.5" cy="192.5" r="1.13"/>
<circle cx="198.0" cy="195.8" r="1.13"/>
<circle cx="198.3" cy="198.5" r="1.13"/>
<circle cx="199.8" cy="200.2" r="1.13"/>
<circle cx="200.6" cy="200.6" r="1.13"/>
<circle cx="201.3" cy="202.1" r="1.13"/>
<circle cx="202.8" cy="203.3" r="1.13"/>
<circle cx="203.4" cy="205.7" r="1.13"/>
<circle cx="204.5" cy="207.7" r="1.13"/>
<circle cx="205.3" cy="210.2" r="1.13"/>
<circle cx="207.2" cy="204.0" r="1.13"/>
<circle cx="208.6" cy="206.9" r="1.13"/>
<circle cx="209.9" cy="207.0" r="1.13"/>
<circle cx="210.0" cy="210.7" r="1.13"/>
<circle cx="234.5" cy="176.3" r="1.13"/>
<circle cx="234.7" cy="176.6" r="1.13"/>
<circle cx="235.7" cy="177.3" r="1.13"/>
<circle cx="236.7" cy="177.7" r="1.13"/>
<circle cx="237.4" cy="177.4" r="1.13"/>
<circle cx="239.4" cy="178.0" r="1.13"/>
<circle cx="240.4" cy="178.1" r="1.13"/>
<circle cx="241.2" cy="178.3" r="1.13"/>
<circle cx="242.3" cy="177.1" r="1.13"/>
<circle cx="244.6" cy="177.4" r="1.13"/>
<circle cx="244.3" cy="177.8" r="1.13"/>
<circle cx="245.5" cy="176.5" r="1.13"/>
<circle cx="246.8" cy="175.4" r="1.13"/>
<circle cx="247.3" cy="170.6" r="1.13"/>
<circle cx="248.9" cy="166.2" r="1.13"/>
<circle cx="249.6" cy="164.9" r="1.13"/>
<circle cx="250.5" cy="166.0" r="1.13"/>
<circle cx="251.5" cy="167.5" r="1.13"/>
<circle cx="252.4" cy="167.1" r="1.13"/>
<circle cx="253.3" cy="166.8" r="1.13"/>
<circle cx="254.2" cy="165.2" r="1.13"/>
<circle cx="255.2" cy="163.7" r="1.13"/>
<circle cx="256.1" cy="162.4" r="1.13"/>
<circle cx="257.1" cy="161.2" r="1.13"/>
<circle cx="258.0" cy="162.1" r="1.13"/>
<circle cx="259.0" cy="163.1" r="1.13"/>
<circle cx="259.9" cy="165.6" r="1.13"/>
<circle cx="261.1" cy="167.5" r="1.13"/>
<circle cx="262.0" cy="164.9" r="1.13"/>
<circle cx="262.8" cy="162.4" r="1.13"/>
<circle cx="263.7" cy="163.0" r="1.13"/>
<circle cx="264.6" cy="163.7" r="1.13"/>
<circle cx="265.3" cy="160.6" r="1.13"/>
<circle cx="266.2" cy="161.5" r="1.13"/>
<circle cx="267.2" cy="162.4" r="1.13"/>
<circle cx="268.4" cy="163.7" r="1.13"/>
<circle cx="269.7" cy="160.6" r="1.13"/>
<circle cx="270.6" cy="160.0" r="1.13"/>
<circle cx="271.5" cy="159.3" r="1.13"/>
<circle cx="272.2" cy="155.5" r="1.13"/>
<circle cx="273.1" cy="156.4" r="1.13"/>
<circle cx="274.1" cy="157.4" r="1.13"/>
<circle cx="275.3" cy="155.5" r="1.13"/>
<circle cx="276.6" cy="158.7" r="1.13"/>
<circle cx="277.5" cy="159.6" r="1.13"/>
<circle cx="278.5" cy="160.6" r="1.13"/>
<circle cx="280.1" cy="155.8" r="1.13"/>
<circle cx="281.6" cy="163.7" r="1.13"/>
<circle cx="282.5" cy="164.3" r="1.13"/>
<circle cx="283.5" cy="164.9" r="1.13"/>
<circle cx="284.4" cy="164.9" r="1.13"/>
<circle cx="285.4" cy="164.9" r="1.13"/>
<circle cx="286.3" cy="164.0" r="1.13"/>
<circle cx="287.2" cy="163.1" r="1.13"/>
<circle cx="288.5" cy="166.2" r="1.13"/>
<circle cx="289.4" cy="166.5" r="1.13"/>
<circle cx="290.4" cy="166.8" r="1.13"/>
<circle cx="289.5" cy="171.2" r="1.13"/>
<circle cx="291.3" cy="167.7" r="1.13"/>
<circle cx="292.3" cy="168.7" r="1.13"/>
<circle cx="293.3" cy="170.6" r="1.13"/>
<circle cx="294.1" cy="170.0" r="1.13"/>
<circle cx="295.4" cy="172.5" r="1.13"/>
<circle cx="296.0" cy="175.0" r="1.13"/>
<circle cx="296.4" cy="176.3" r="1.13"/>
<circle cx="297.3" cy="177.5" r="1.13"/>
<circle cx="297.7" cy="178.8" r="1.13"/>
<circle cx="299.2" cy="179.4" r="1.13"/>
<circle cx="299.5" cy="180.7" r="1.13"/>
<circle cx="300.4" cy="183.2" r="1.13"/>
<circle cx="301.2" cy="182.0" r="1.13"/>
<circle cx="302.1" cy="182.6" r="1.13"/>
<circle cx="303.9" cy="181.3" r="1.13"/>
<circle cx="305.4" cy="179.4" r="1.13"/>
<circle cx="306.7" cy="182.6" r="1.13"/>
<circle cx="307.5" cy="183.8" r="1.13"/>
<circle cx="307.1" cy="188.8" r="1.13"/>
</g>
<polygon points="269.30,85.50 270.02,87.41 272.06,87.50 270.46,88.78 271.00,90.75 269.30,89.62 267.60,90.75 268.14,88.78 266.54,87.50 268.58,87.41" fill="#ff0000"/>
<text transform="translate(278.60,91.90) scale(0.82,1)" font-size="9.6" text-anchor="start" fill="#111" >LC2282</text>
<polygon points="269.30,97.20 270.02,99.11 272.06,99.20 270.46,100.48 271.00,102.45 269.30,101.32 267.60,102.45 268.14,100.48 266.54,99.20 268.58,99.11" fill="#00ff00"/>
<text transform="translate(278.60,103.60) scale(0.82,1)" font-size="9.6" text-anchor="start" fill="#111" >LC2317</text>
<polygon points="269.30,109.00 270.02,110.91 272.06,111.00 270.46,112.28 271.00,114.25 269.30,113.12 267.60,114.25 268.14,112.28 266.54,111.00 268.58,110.91" fill="#0000ff"/>
<text transform="translate(278.60,115.40) scale(0.82,1)" font-size="9.6" text-anchor="start" fill="#111" >LC3038</text>
</g>
<g id="panel-b">
<line x1="393.90" y1="15.20" x2="685.70" y2="15.20" stroke="#000" stroke-width="1.25"/>
<line x1="393.90" y1="121.30" x2="685.70" y2="121.30" stroke="#000" stroke-width="1.25"/>
<line x1="393.90" y1="227.30" x2="685.70" y2="227.30" stroke="#000" stroke-width="1.25"/>
<line x1="394.60" y1="15.20" x2="394.60" y2="227.30" stroke="#000" stroke-width="1.25"/>
<line x1="684.30" y1="15.20" x2="684.30" y2="227.30" stroke="#000" stroke-width="1.25"/>
<line x1="417.90" y1="15.20" x2="417.90" y2="19.70" stroke="#000" stroke-width="1.2"/>
<line x1="417.90" y1="116.80" x2="417.90" y2="125.80" stroke="#000" stroke-width="1.2"/>
<line x1="417.90" y1="222.80" x2="417.90" y2="227.30" stroke="#000" stroke-width="1.2"/>
<line x1="465.55" y1="15.20" x2="465.55" y2="19.70" stroke="#000" stroke-width="1.2"/>
<line x1="465.55" y1="116.80" x2="465.55" y2="125.80" stroke="#000" stroke-width="1.2"/>
<line x1="465.55" y1="222.80" x2="465.55" y2="227.30" stroke="#000" stroke-width="1.2"/>
<line x1="513.20" y1="15.20" x2="513.20" y2="19.70" stroke="#000" stroke-width="1.2"/>
<line x1="513.20" y1="116.80" x2="513.20" y2="125.80" stroke="#000" stroke-width="1.2"/>
<line x1="513.20" y1="222.80" x2="513.20" y2="227.30" stroke="#000" stroke-width="1.2"/>
<line x1="565.50" y1="15.20" x2="565.50" y2="19.70" stroke="#000" stroke-width="1.2"/>
<line x1="565.50" y1="116.80" x2="565.50" y2="125.80" stroke="#000" stroke-width="1.2"/>
<line x1="565.50" y1="222.80" x2="565.50" y2="227.30" stroke="#000" stroke-width="1.2"/>
<line x1="613.00" y1="15.20" x2="613.00" y2="19.70" stroke="#000" stroke-width="1.2"/>
<line x1="613.00" y1="116.80" x2="613.00" y2="125.80" stroke="#000" stroke-width="1.2"/>
<line x1="613.00" y1="222.80" x2="613.00" y2="227.30" stroke="#000" stroke-width="1.2"/>
<line x1="660.50" y1="15.20" x2="660.50" y2="19.70" stroke="#000" stroke-width="1.2"/>
<line x1="660.50" y1="116.80" x2="660.50" y2="125.80" stroke="#000" stroke-width="1.2"/>
<line x1="660.50" y1="222.80" x2="660.50" y2="227.30" stroke="#000" stroke-width="1.2"/>
<line x1="398.84" y1="15.20" x2="398.84" y2="17.70" stroke="#000" stroke-width="1.2"/>
<line x1="398.84" y1="118.80" x2="398.84" y2="123.80" stroke="#000" stroke-width="1.2"/>
<line x1="398.84" y1="224.80" x2="398.84" y2="227.30" stroke="#000" stroke-width="1.2"/>
<line x1="408.37" y1="15.20" x2="408.37" y2="17.70" stroke="#000" stroke-width="1.2"/>
<line x1="408.37" y1="118.80" x2="408.37" y2="123.80" stroke="#000" stroke-width="1.2"/>
<line x1="408.37" y1="224.80" x2="408.37" y2="227.30" stroke="#000" stroke-width="1.2"/>
<line x1="427.43" y1="15.20" x2="427.43" y2="17.70" stroke="#000" stroke-width="1.2"/>
<line x1="427.43" y1="118.80" x2="427.43" y2="123.80" stroke="#000" stroke-width="1.2"/>
<line x1="427.43" y1="224.80" x2="427.43" y2="227.30" stroke="#000" stroke-width="1.2"/>
<line x1="436.96" y1="15.20" x2="436.96" y2="17.70" stroke="#000" stroke-width="1.2"/>
<line x1="436.96" y1="118.80" x2="436.96" y2="123.80" stroke="#000" stroke-width="1.2"/>
<line x1="436.96" y1="224.80" x2="436.96" y2="227.30" stroke="#000" stroke-width="1.2"/>
<line x1="446.49" y1="15.20" x2="446.49" y2="17.70" stroke="#000" stroke-width="1.2"/>
<line x1="446.49" y1="118.80" x2="446.49" y2="123.80" stroke="#000" stroke-width="1.2"/>
<line x1="446.49" y1="224.80" x2="446.49" y2="227.30" stroke="#000" stroke-width="1.2"/>
<line x1="456.02" y1="15.20" x2="456.02" y2="17.70" stroke="#000" stroke-width="1.2"/>
<line x1="456.02" y1="118.80" x2="456.02" y2="123.80" stroke="#000" stroke-width="1.2"/>
<line x1="456.02" y1="224.80" x2="456.02" y2="227.30" stroke="#000" stroke-width="1.2"/>
<line x1="475.08" y1="15.20" x2="475.08" y2="17.70" stroke="#000" stroke-width="1.2"/>
<line x1="475.08" y1="118.80" x2="475.08" y2="123.80" stroke="#000" stroke-width="1.2"/>
<line x1="475.08" y1="224.80" x2="475.08" y2="227.30" stroke="#000" stroke-width="1.2"/>
<line x1="484.61" y1="15.20" x2="484.61" y2="17.70" stroke="#000" stroke-width="1.2"/>
<line x1="484.61" y1="118.80" x2="484.61" y2="123.80" stroke="#000" stroke-width="1.2"/>
<line x1="484.61" y1="224.80" x2="484.61" y2="227.30" stroke="#000" stroke-width="1.2"/>
<line x1="494.14" y1="15.20" x2="494.14" y2="17.70" stroke="#000" stroke-width="1.2"/>
<line x1="494.14" y1="118.80" x2="494.14" y2="123.80" stroke="#000" stroke-width="1.2"/>
<line x1="494.14" y1="224.80" x2="494.14" y2="227.30" stroke="#000" stroke-width="1.2"/>
<line x1="503.67" y1="15.20" x2="503.67" y2="17.70" stroke="#000" stroke-width="1.2"/>
<line x1="503.67" y1="118.80" x2="503.67" y2="123.80" stroke="#000" stroke-width="1.2"/>
<line x1="503.67" y1="224.80" x2="503.67" y2="227.30" stroke="#000" stroke-width="1.2"/>
<line x1="522.73" y1="15.20" x2="522.73" y2="17.70" stroke="#000" stroke-width="1.2"/>
<line x1="522.73" y1="118.80" x2="522.73" y2="123.80" stroke="#000" stroke-width="1.2"/>
<line x1="522.73" y1="224.80" x2="522.73" y2="227.30" stroke="#000" stroke-width="1.2"/>
<line x1="532.26" y1="15.20" x2="532.26" y2="17.70" stroke="#000" stroke-width="1.2"/>
<line x1="532.26" y1="118.80" x2="532.26" y2="123.80" stroke="#000" stroke-width="1.2"/>
<line x1="532.26" y1="224.80" x2="532.26" y2="227.30" stroke="#000" stroke-width="1.2"/>
<line x1="546.50" y1="15.20" x2="546.50" y2="17.70" stroke="#000" stroke-width="1.2"/>
<line x1="546.50" y1="118.80" x2="546.50" y2="123.80" stroke="#000" stroke-width="1.2"/>
<line x1="546.50" y1="224.80" x2="546.50" y2="227.30" stroke="#000" stroke-width="1.2"/>
<line x1="556.00" y1="15.20" x2="556.00" y2="17.70" stroke="#000" stroke-width="1.2"/>
<line x1="556.00" y1="118.80" x2="556.00" y2="123.80" stroke="#000" stroke-width="1.2"/>
<line x1="556.00" y1="224.80" x2="556.00" y2="227.30" stroke="#000" stroke-width="1.2"/>
<line x1="575.00" y1="15.20" x2="575.00" y2="17.70" stroke="#000" stroke-width="1.2"/>
<line x1="575.00" y1="118.80" x2="575.00" y2="123.80" stroke="#000" stroke-width="1.2"/>
<line x1="575.00" y1="224.80" x2="575.00" y2="227.30" stroke="#000" stroke-width="1.2"/>
<line x1="584.50" y1="15.20" x2="584.50" y2="17.70" stroke="#000" stroke-width="1.2"/>
<line x1="584.50" y1="118.80" x2="584.50" y2="123.80" stroke="#000" stroke-width="1.2"/>
<line x1="584.50" y1="224.80" x2="584.50" y2="227.30" stroke="#000" stroke-width="1.2"/>
<line x1="594.00" y1="15.20" x2="594.00" y2="17.70" stroke="#000" stroke-width="1.2"/>
<line x1="594.00" y1="118.80" x2="594.00" y2="123.80" stroke="#000" stroke-width="1.2"/>
<line x1="594.00" y1="224.80" x2="594.00" y2="227.30" stroke="#000" stroke-width="1.2"/>
<line x1="603.50" y1="15.20" x2="603.50" y2="17.70" stroke="#000" stroke-width="1.2"/>
<line x1="603.50" y1="118.80" x2="603.50" y2="123.80" stroke="#000" stroke-width="1.2"/>
<line x1="603.50" y1="224.80" x2="603.50" y2="227.30" stroke="#000" stroke-width="1.2"/>
<line x1="622.50" y1="15.20" x2="622.50" y2="17.70" stroke="#000" stroke-width="1.2"/>
<line x1="622.50" y1="118.80" x2="622.50" y2="123.80" stroke="#000" stroke-width="1.2"/>
<line x1="622.50" y1="224.80" x2="622.50" y2="227.30" stroke="#000" stroke-width="1.2"/>
<line x1="632.00" y1="15.20" x2="632.00" y2="17.70" stroke="#000" stroke-width="1.2"/>
<line x1="632.00" y1="118.80" x2="632.00" y2="123.80" stroke="#000" stroke-width="1.2"/>
<line x1="632.00" y1="224.80" x2="632.00" y2="227.30" stroke="#000" stroke-width="1.2"/>
<line x1="641.50" y1="15.20" x2="641.50" y2="17.70" stroke="#000" stroke-width="1.2"/>
<line x1="641.50" y1="118.80" x2="641.50" y2="123.80" stroke="#000" stroke-width="1.2"/>
<line x1="641.50" y1="224.80" x2="641.50" y2="227.30" stroke="#000" stroke-width="1.2"/>
<line x1="651.00" y1="15.20" x2="651.00" y2="17.70" stroke="#000" stroke-width="1.2"/>
<line x1="651.00" y1="118.80" x2="651.00" y2="123.80" stroke="#000" stroke-width="1.2"/>
<line x1="651.00" y1="224.80" x2="651.00" y2="227.30" stroke="#000" stroke-width="1.2"/>
<line x1="670.00" y1="15.20" x2="670.00" y2="17.70" stroke="#000" stroke-width="1.2"/>
<line x1="670.00" y1="118.80" x2="670.00" y2="123.80" stroke="#000" stroke-width="1.2"/>
<line x1="670.00" y1="224.80" x2="670.00" y2="227.30" stroke="#000" stroke-width="1.2"/>
<line x1="679.50" y1="15.20" x2="679.50" y2="17.70" stroke="#000" stroke-width="1.2"/>
<line x1="679.50" y1="118.80" x2="679.50" y2="123.80" stroke="#000" stroke-width="1.2"/>
<line x1="679.50" y1="224.80" x2="679.50" y2="227.30" stroke="#000" stroke-width="1.2"/>
<polygon points="534.20,19.80 539.40,10.60 544.50,10.60 539.30,19.80" fill="#fff"/>
<line x1="534.20" y1="19.80" x2="539.40" y2="10.60" stroke="#000" stroke-width="1.0"/>
<line x1="539.30" y1="19.80" x2="544.50" y2="10.60" stroke="#000" stroke-width="1.0"/>
<polygon points="534.20,125.90 539.40,116.70 544.50,116.70 539.30,125.90" fill="#fff"/>
<line x1="534.20" y1="125.90" x2="539.40" y2="116.70" stroke="#000" stroke-width="1.0"/>
<line x1="539.30" y1="125.90" x2="544.50" y2="116.70" stroke="#000" stroke-width="1.0"/>
<polygon points="534.20,231.90 539.40,222.70 544.50,222.70 539.30,231.90" fill="#fff"/>
<line x1="534.20" y1="231.90" x2="539.40" y2="222.70" stroke="#000" stroke-width="1.0"/>
<line x1="539.30" y1="231.90" x2="544.50" y2="222.70" stroke="#000" stroke-width="1.0"/>
<line x1="394.60" y1="112.94" x2="396.90" y2="112.94" stroke="#000" stroke-width="1.2"/>
<line x1="682.00" y1="112.94" x2="684.30" y2="112.94" stroke="#000" stroke-width="1.2"/>
<line x1="394.60" y1="104.80" x2="399.00" y2="104.80" stroke="#000" stroke-width="1.2"/>
<line x1="679.90" y1="104.80" x2="684.30" y2="104.80" stroke="#000" stroke-width="1.2"/>
<line x1="394.60" y1="96.66" x2="396.90" y2="96.66" stroke="#000" stroke-width="1.2"/>
<line x1="682.00" y1="96.66" x2="684.30" y2="96.66" stroke="#000" stroke-width="1.2"/>
<line x1="394.60" y1="88.52" x2="396.90" y2="88.52" stroke="#000" stroke-width="1.2"/>
<line x1="682.00" y1="88.52" x2="684.30" y2="88.52" stroke="#000" stroke-width="1.2"/>
<line x1="394.60" y1="80.38" x2="396.90" y2="80.38" stroke="#000" stroke-width="1.2"/>
<line x1="682.00" y1="80.38" x2="684.30" y2="80.38" stroke="#000" stroke-width="1.2"/>
<line x1="394.60" y1="72.24" x2="396.90" y2="72.24" stroke="#000" stroke-width="1.2"/>
<line x1="682.00" y1="72.24" x2="684.30" y2="72.24" stroke="#000" stroke-width="1.2"/>
<line x1="394.60" y1="64.10" x2="399.00" y2="64.10" stroke="#000" stroke-width="1.2"/>
<line x1="679.90" y1="64.10" x2="684.30" y2="64.10" stroke="#000" stroke-width="1.2"/>
<line x1="394.60" y1="55.96" x2="396.90" y2="55.96" stroke="#000" stroke-width="1.2"/>
<line x1="682.00" y1="55.96" x2="684.30" y2="55.96" stroke="#000" stroke-width="1.2"/>
<line x1="394.60" y1="47.82" x2="396.90" y2="47.82" stroke="#000" stroke-width="1.2"/>
<line x1="682.00" y1="47.82" x2="684.30" y2="47.82" stroke="#000" stroke-width="1.2"/>
<line x1="394.60" y1="39.68" x2="396.90" y2="39.68" stroke="#000" stroke-width="1.2"/>
<line x1="682.00" y1="39.68" x2="684.30" y2="39.68" stroke="#000" stroke-width="1.2"/>
<line x1="394.60" y1="31.54" x2="396.90" y2="31.54" stroke="#000" stroke-width="1.2"/>
<line x1="682.00" y1="31.54" x2="684.30" y2="31.54" stroke="#000" stroke-width="1.2"/>
<line x1="394.60" y1="23.40" x2="399.00" y2="23.40" stroke="#000" stroke-width="1.2"/>
<line x1="679.90" y1="23.40" x2="684.30" y2="23.40" stroke="#000" stroke-width="1.2"/>
<line x1="394.60" y1="223.70" x2="396.90" y2="223.70" stroke="#000" stroke-width="1.2"/>
<line x1="682.00" y1="223.70" x2="684.30" y2="223.70" stroke="#000" stroke-width="1.2"/>
<line x1="394.60" y1="216.60" x2="396.90" y2="216.60" stroke="#000" stroke-width="1.2"/>
<line x1="682.00" y1="216.60" x2="684.30" y2="216.60" stroke="#000" stroke-width="1.2"/>
<line x1="394.60" y1="209.50" x2="399.00" y2="209.50" stroke="#000" stroke-width="1.2"/>
<line x1="679.90" y1="209.50" x2="684.30" y2="209.50" stroke="#000" stroke-width="1.2"/>
<line x1="394.60" y1="202.40" x2="396.90" y2="202.40" stroke="#000" stroke-width="1.2"/>
<line x1="682.00" y1="202.40" x2="684.30" y2="202.40" stroke="#000" stroke-width="1.2"/>
<line x1="394.60" y1="195.30" x2="396.90" y2="195.30" stroke="#000" stroke-width="1.2"/>
<line x1="682.00" y1="195.30" x2="684.30" y2="195.30" stroke="#000" stroke-width="1.2"/>
<line x1="394.60" y1="188.20" x2="396.90" y2="188.20" stroke="#000" stroke-width="1.2"/>
<line x1="682.00" y1="188.20" x2="684.30" y2="188.20" stroke="#000" stroke-width="1.2"/>
<line x1="394.60" y1="181.10" x2="396.90" y2="181.10" stroke="#000" stroke-width="1.2"/>
<line x1="682.00" y1="181.10" x2="684.30" y2="181.10" stroke="#000" stroke-width="1.2"/>
<line x1="394.60" y1="174.00" x2="399.00" y2="174.00" stroke="#000" stroke-width="1.2"/>
<line x1="679.90" y1="174.00" x2="684.30" y2="174.00" stroke="#000" stroke-width="1.2"/>
<line x1="394.60" y1="166.90" x2="396.90" y2="166.90" stroke="#000" stroke-width="1.2"/>
<line x1="682.00" y1="166.90" x2="684.30" y2="166.90" stroke="#000" stroke-width="1.2"/>
<line x1="394.60" y1="159.80" x2="396.90" y2="159.80" stroke="#000" stroke-width="1.2"/>
<line x1="682.00" y1="159.80" x2="684.30" y2="159.80" stroke="#000" stroke-width="1.2"/>
<line x1="394.60" y1="152.70" x2="396.90" y2="152.70" stroke="#000" stroke-width="1.2"/>
<line x1="682.00" y1="152.70" x2="684.30" y2="152.70" stroke="#000" stroke-width="1.2"/>
<line x1="394.60" y1="145.60" x2="396.90" y2="145.60" stroke="#000" stroke-width="1.2"/>
<line x1="682.00" y1="145.60" x2="684.30" y2="145.60" stroke="#000" stroke-width="1.2"/>
<line x1="394.60" y1="138.50" x2="399.00" y2="138.50" stroke="#000" stroke-width="1.2"/>
<line x1="679.90" y1="138.50" x2="684.30" y2="138.50" stroke="#000" stroke-width="1.2"/>
<line x1="394.60" y1="131.40" x2="396.90" y2="131.40" stroke="#000" stroke-width="1.2"/>
<line x1="682.00" y1="131.40" x2="684.30" y2="131.40" stroke="#000" stroke-width="1.2"/>
<line x1="394.60" y1="124.30" x2="396.90" y2="124.30" stroke="#000" stroke-width="1.2"/>
<line x1="682.00" y1="124.30" x2="684.30" y2="124.30" stroke="#000" stroke-width="1.2"/>
<text transform="translate(417.90,8.00) scale(0.9,1)" font-size="10.6" text-anchor="middle" fill="#111" >1930</text>
<text transform="translate(417.90,240.70) scale(0.9,1)" font-size="10.6" text-anchor="middle" fill="#111" >1930</text>
<text transform="translate(466.00,8.00) scale(0.9,1)" font-size="10.6" text-anchor="middle" fill="#111" >1940</text>
<text transform="translate(466.00,240.70) scale(0.9,1)" font-size="10.6" text-anchor="middle" fill="#111" >1940</text>
<text transform="translate(513.40,8.00) scale(0.9,1)" font-size="10.6" text-anchor="middle" fill="#111" >1950</text>
<text transform="translate(513.40,240.70) scale(0.9,1)" font-size="10.6" text-anchor="middle" fill="#111" >1950</text>
<text transform="translate(565.50,8.00) scale(0.9,1)" font-size="10.6" text-anchor="middle" fill="#111" >2670</text>
<text transform="translate(565.50,240.70) scale(0.9,1)" font-size="10.6" text-anchor="middle" fill="#111" >2670</text>
<text transform="translate(613.10,8.00) scale(0.9,1)" font-size="10.6" text-anchor="middle" fill="#111" >2680</text>
<text transform="translate(613.10,240.70) scale(0.9,1)" font-size="10.6" text-anchor="middle" fill="#111" >2680</text>
<text transform="translate(660.80,8.00) scale(0.9,1)" font-size="10.6" text-anchor="middle" fill="#111" >2690</text>
<text transform="translate(660.80,240.70) scale(0.9,1)" font-size="10.6" text-anchor="middle" fill="#111" >2690</text>
<text transform="translate(390.20,26.30) scale(0.87,1)" font-size="10.8" text-anchor="end" fill="#111" >0.00</text>
<text transform="translate(390.20,67.20) scale(0.87,1)" font-size="10.8" text-anchor="end" fill="#111" >-0.01</text>
<text transform="translate(390.20,108.10) scale(0.87,1)" font-size="10.8" text-anchor="end" fill="#111" >-0.02</text>
<text transform="translate(390.20,141.70) scale(0.87,1)" font-size="10.8" text-anchor="end" fill="#111" >0.02</text>
<text transform="translate(390.20,177.20) scale(0.87,1)" font-size="10.8" text-anchor="end" fill="#111" >0.01</text>
<text transform="translate(390.20,212.60) scale(0.87,1)" font-size="10.8" text-anchor="end" fill="#111" >0.00</text>
<text transform="translate(400.00,31.90) scale(0.98,1)" font-size="10.4" text-anchor="start" fill="#111" >(b) HT Vir</text>
<text transform="translate(363.90,76.00) rotate(-90) scale(1,0.8)" font-size="11.0" text-anchor="middle" fill="#111">Δm<tspan font-size="6.4" dy="4.20">max</tspan><tspan dy="-4.20">(mag)</tspan></text>
<text transform="translate(363.50,182.50) rotate(-90) scale(1,0.8)" font-size="11.0" text-anchor="middle" fill="#111">Δm<tspan font-size="6.4" dy="4.20">min</tspan><tspan dy="-4.20">(mag)</tspan></text>
<text transform="translate(494.2,258.8) scale(0.85,1)" font-size="10.8" fill="#111">BJD<tspan font-size="6.6" dy="3.9" dx="0.8">TDB</tspan></text>
<text transform="translate(522.9,258.8) scale(0.893,1)" font-size="10.8" fill="#111">(2457000.0+)</text>
<g fill="#000">
<circle cx="414.8" cy="74.4" r="1.6"/>
<circle cx="416.6" cy="73.2" r="1.6"/>
<circle cx="418.9" cy="77.6" r="1.6"/>
<circle cx="420.7" cy="73.6" r="1.6"/>
<circle cx="422.5" cy="75.0" r="1.6"/>
<circle cx="426.4" cy="72.2" r="1.6"/>
<circle cx="428.3" cy="76.3" r="1.6"/>
<circle cx="430.5" cy="79.8" r="1.6"/>
<circle cx="432.4" cy="76.6" r="1.6"/>
<circle cx="434.3" cy="76.1" r="1.6"/>
<circle cx="436.2" cy="76.9" r="1.6"/>
<circle cx="438.3" cy="73.2" r="1.6"/>
<circle cx="439.9" cy="76.9" r="1.6"/>
<circle cx="441.7" cy="79.5" r="1.6"/>
<circle cx="444.0" cy="76.1" r="1.6"/>
<circle cx="445.8" cy="76.1" r="1.6"/>
<circle cx="447.7" cy="87.0" r="1.6"/>
<circle cx="449.6" cy="78.5" r="1.6"/>
<circle cx="451.5" cy="79.8" r="1.6"/>
<circle cx="453.4" cy="76.9" r="1.6"/>
<circle cx="455.3" cy="78.6" r="1.6"/>
<circle cx="457.4" cy="75.7" r="1.6"/>
<circle cx="459.3" cy="81.3" r="1.6"/>
<circle cx="461.2" cy="79.5" r="1.6"/>
<circle cx="463.0" cy="81.6" r="1.6"/>
<circle cx="465.3" cy="77.6" r="1.6"/>
<circle cx="467.2" cy="79.5" r="1.6"/>
<circle cx="469.2" cy="86.1" r="1.6"/>
<circle cx="475.0" cy="85.0" r="1.6"/>
<circle cx="475.0" cy="89.3" r="1.6"/>
<circle cx="482.6" cy="83.0" r="1.6"/>
<circle cx="484.5" cy="80.3" r="1.6"/>
<circle cx="492.4" cy="83.6" r="1.6"/>
<circle cx="494.3" cy="87.8" r="1.6"/>
<circle cx="496.1" cy="86.8" r="1.6"/>
<circle cx="498.3" cy="93.7" r="1.6"/>
<circle cx="500.2" cy="95.3" r="1.6"/>
<circle cx="502.0" cy="97.5" r="1.6"/>
<circle cx="503.9" cy="101.2" r="1.6"/>
<circle cx="505.8" cy="99.6" r="1.6"/>
<circle cx="507.7" cy="104.4" r="1.6"/>
<circle cx="509.6" cy="107.1" r="1.6"/>
<circle cx="511.7" cy="108.5" r="1.6"/>
<circle cx="513.7" cy="104.6" r="1.6"/>
<circle cx="515.6" cy="106.0" r="1.6"/>
<circle cx="519.6" cy="104.6" r="1.6"/>
<circle cx="521.5" cy="101.9" r="1.6"/>
<circle cx="523.4" cy="100.0" r="1.6"/>
<circle cx="525.5" cy="96.8" r="1.6"/>
<circle cx="527.4" cy="97.5" r="1.6"/>
<circle cx="529.3" cy="94.9" r="1.6"/>
<circle cx="531.2" cy="91.2" r="1.6"/>
<circle cx="533.2" cy="87.8" r="1.6"/>
<circle cx="535.1" cy="84.3" r="1.6"/>
<circle cx="544.5" cy="28.5" r="1.6"/>
<circle cx="546.5" cy="33.2" r="1.6"/>
<circle cx="548.4" cy="33.5" r="1.6"/>
<circle cx="560.0" cy="37.3" r="1.6"/>
<circle cx="562.0" cy="42.4" r="1.6"/>
<circle cx="563.9" cy="41.1" r="1.6"/>
<circle cx="565.8" cy="40.3" r="1.6"/>
<circle cx="567.7" cy="41.5" r="1.6"/>
<circle cx="569.8" cy="45.5" r="1.6"/>
<circle cx="571.7" cy="45.8" r="1.6"/>
<circle cx="573.6" cy="51.2" r="1.6"/>
<circle cx="575.5" cy="51.6" r="1.6"/>
<circle cx="577.6" cy="54.9" r="1.6"/>
<circle cx="579.5" cy="56.2" r="1.6"/>
<circle cx="581.4" cy="53.1" r="1.6"/>
<circle cx="583.2" cy="50.3" r="1.6"/>
<circle cx="585.1" cy="51.6" r="1.6"/>
<circle cx="587.1" cy="49.0" r="1.6"/>
<circle cx="589.0" cy="49.5" r="1.6"/>
<circle cx="591.2" cy="52.8" r="1.6"/>
<circle cx="593.0" cy="53.1" r="1.6"/>
<circle cx="595.2" cy="59.3" r="1.6"/>
<circle cx="597.1" cy="58.7" r="1.6"/>
<circle cx="599.1" cy="55.6" r="1.6"/>
<circle cx="600.9" cy="52.8" r="1.6"/>
<circle cx="602.8" cy="57.1" r="1.6"/>
<circle cx="604.7" cy="53.7" r="1.6"/>
<circle cx="610.6" cy="55.3" r="1.6"/>
<circle cx="611.9" cy="57.5" r="1.6"/>
<circle cx="612.5" cy="59.3" r="1.6"/>
<circle cx="626.1" cy="49.0" r="1.6"/>
<circle cx="630.1" cy="47.0" r="1.6"/>
<circle cx="633.8" cy="50.3" r="1.6"/>
<circle cx="635.7" cy="51.8" r="1.6"/>
<circle cx="637.6" cy="48.3" r="1.6"/>
<circle cx="639.5" cy="50.3" r="1.6"/>
<circle cx="641.5" cy="45.3" r="1.6"/>
<circle cx="643.5" cy="43.0" r="1.6"/>
<circle cx="645.5" cy="40.2" r="1.6"/>
<circle cx="647.3" cy="33.6" r="1.6"/>
<circle cx="649.2" cy="32.3" r="1.6"/>
<circle cx="651.1" cy="31.1" r="1.6"/>
<circle cx="653.0" cy="32.3" r="1.6"/>
<circle cx="654.9" cy="28.2" r="1.6"/>
<circle cx="656.8" cy="29.4" r="1.6"/>
<circle cx="658.9" cy="31.1" r="1.6"/>
<circle cx="663.0" cy="24.8" r="1.6"/>
<circle cx="664.9" cy="26.5" r="1.6"/>
<circle cx="667.1" cy="21.5" r="1.6"/>
</g>
<polygon points="424.50,71.80 425.24,73.78 427.35,73.87 425.70,75.19 426.26,77.23 424.50,76.06 422.74,77.23 423.30,75.19 421.65,73.87 423.76,73.78" fill="#00ff00"/>
<polygon points="517.50,104.10 518.24,106.08 520.35,106.17 518.70,107.49 519.26,109.53 517.50,108.36 515.74,109.53 516.30,107.49 514.65,106.17 516.76,106.08" fill="#ff0000"/>
<polygon points="660.50,20.20 661.24,22.18 663.35,22.27 661.70,23.59 662.26,25.63 660.50,24.46 658.74,25.63 659.30,23.59 657.65,22.27 659.76,22.18" fill="#0000ff"/>
<g fill="none" stroke="#000" stroke-width="0.8">
<ellipse cx="414.5" cy="192.6" rx="1.1" ry="1.35"/>
<ellipse cx="416.3" cy="196.3" rx="1.1" ry="1.35"/>
<ellipse cx="418.5" cy="192.3" rx="1.1" ry="1.35"/>
<ellipse cx="420.4" cy="195.1" rx="1.1" ry="1.35"/>
<ellipse cx="422.2" cy="194.8" rx="1.1" ry="1.35"/>
<ellipse cx="424.3" cy="196.6" rx="1.1" ry="1.35"/>
<ellipse cx="426.1" cy="191.9" rx="1.1" ry="1.35"/>
<ellipse cx="427.9" cy="192.6" rx="1.1" ry="1.35"/>
<ellipse cx="429.9" cy="194.4" rx="1.1" ry="1.35"/>
<ellipse cx="431.7" cy="196.9" rx="1.1" ry="1.35"/>
<ellipse cx="433.7" cy="194.8" rx="1.1" ry="1.35"/>
<ellipse cx="435.6" cy="195.4" rx="1.1" ry="1.35"/>
<ellipse cx="437.7" cy="185.0" rx="1.1" ry="1.35"/>
<ellipse cx="439.6" cy="207.0" rx="1.1" ry="1.35"/>
<ellipse cx="441.5" cy="199.5" rx="1.1" ry="1.35"/>
<ellipse cx="443.3" cy="197.3" rx="1.1" ry="1.35"/>
<ellipse cx="445.2" cy="188.8" rx="1.1" ry="1.35"/>
<ellipse cx="447.5" cy="208.2" rx="1.1" ry="1.35"/>
<ellipse cx="449.2" cy="197.6" rx="1.1" ry="1.35"/>
<ellipse cx="451.2" cy="197.6" rx="1.1" ry="1.35"/>
<ellipse cx="453.4" cy="201.3" rx="1.1" ry="1.35"/>
<ellipse cx="455.3" cy="203.9" rx="1.1" ry="1.35"/>
<ellipse cx="457.1" cy="201.6" rx="1.1" ry="1.35"/>
<ellipse cx="459.0" cy="201.6" rx="1.1" ry="1.35"/>
<ellipse cx="460.9" cy="207.0" rx="1.1" ry="1.35"/>
<ellipse cx="462.7" cy="209.5" rx="1.1" ry="1.35"/>
<ellipse cx="464.7" cy="204.5" rx="1.1" ry="1.35"/>
<ellipse cx="466.6" cy="203.6" rx="1.1" ry="1.35"/>
<ellipse cx="468.4" cy="203.6" rx="1.1" ry="1.35"/>
<ellipse cx="468.6" cy="208.2" rx="1.1" ry="1.35"/>
<ellipse cx="474.3" cy="202.4" rx="1.1" ry="1.35"/>
<ellipse cx="482.3" cy="199.5" rx="1.1" ry="1.35"/>
<ellipse cx="484.2" cy="201.3" rx="1.1" ry="1.35"/>
<ellipse cx="484.2" cy="207.9" rx="1.1" ry="1.35"/>
<ellipse cx="493.6" cy="203.9" rx="1.1" ry="1.35"/>
<ellipse cx="495.6" cy="206.1" rx="1.1" ry="1.35"/>
<ellipse cx="497.5" cy="198.6" rx="1.1" ry="1.35"/>
<ellipse cx="499.4" cy="194.8" rx="1.1" ry="1.35"/>
<ellipse cx="501.3" cy="198.2" rx="1.1" ry="1.35"/>
<ellipse cx="503.4" cy="196.3" rx="1.1" ry="1.35"/>
<ellipse cx="505.3" cy="194.1" rx="1.1" ry="1.35"/>
<ellipse cx="507.4" cy="190.0" rx="1.1" ry="1.35"/>
<ellipse cx="509.5" cy="194.1" rx="1.1" ry="1.35"/>
<ellipse cx="511.3" cy="202.0" rx="1.1" ry="1.35"/>
<ellipse cx="513.2" cy="197.3" rx="1.1" ry="1.35"/>
<ellipse cx="515.4" cy="191.0" rx="1.1" ry="1.35"/>
<ellipse cx="517.2" cy="192.3" rx="1.1" ry="1.35"/>
<ellipse cx="519.1" cy="192.9" rx="1.1" ry="1.35"/>
<ellipse cx="521.0" cy="192.9" rx="1.1" ry="1.35"/>
<ellipse cx="523.1" cy="192.9" rx="1.1" ry="1.35"/>
<ellipse cx="525.0" cy="191.9" rx="1.1" ry="1.35"/>
<ellipse cx="526.9" cy="190.0" rx="1.1" ry="1.35"/>
<ellipse cx="528.8" cy="191.9" rx="1.1" ry="1.35"/>
<ellipse cx="530.7" cy="192.9" rx="1.1" ry="1.35"/>
<ellipse cx="532.6" cy="192.6" rx="1.1" ry="1.35"/>
<ellipse cx="534.6" cy="188.5" rx="1.1" ry="1.35"/>
<ellipse cx="543.6" cy="153.7" rx="1.1" ry="1.35"/>
<ellipse cx="545.5" cy="153.1" rx="1.1" ry="1.35"/>
<ellipse cx="547.4" cy="152.9" rx="1.1" ry="1.35"/>
<ellipse cx="559.6" cy="148.7" rx="1.1" ry="1.35"/>
<ellipse cx="561.5" cy="142.1" rx="1.1" ry="1.35"/>
<ellipse cx="563.4" cy="150.3" rx="1.1" ry="1.35"/>
<ellipse cx="565.4" cy="148.1" rx="1.1" ry="1.35"/>
<ellipse cx="567.3" cy="150.0" rx="1.1" ry="1.35"/>
<ellipse cx="569.4" cy="144.3" rx="1.1" ry="1.35"/>
<ellipse cx="571.3" cy="139.9" rx="1.1" ry="1.35"/>
<ellipse cx="573.2" cy="139.9" rx="1.1" ry="1.35"/>
<ellipse cx="575.2" cy="134.5" rx="1.1" ry="1.35"/>
<ellipse cx="576.9" cy="149.1" rx="1.1" ry="1.35"/>
<ellipse cx="579.2" cy="140.3" rx="1.1" ry="1.35"/>
<ellipse cx="581.1" cy="141.2" rx="1.1" ry="1.35"/>
<ellipse cx="583.0" cy="143.7" rx="1.1" ry="1.35"/>
<ellipse cx="584.8" cy="138.3" rx="1.1" ry="1.35"/>
<ellipse cx="586.7" cy="141.2" rx="1.1" ry="1.35"/>
<ellipse cx="588.6" cy="135.8" rx="1.1" ry="1.35"/>
<ellipse cx="590.5" cy="138.7" rx="1.1" ry="1.35"/>
<ellipse cx="592.4" cy="139.0" rx="1.1" ry="1.35"/>
<ellipse cx="594.5" cy="136.2" rx="1.1" ry="1.35"/>
<ellipse cx="596.4" cy="137.4" rx="1.1" ry="1.35"/>
<ellipse cx="598.5" cy="132.8" rx="1.1" ry="1.35"/>
<ellipse cx="600.4" cy="139.3" rx="1.1" ry="1.35"/>
<ellipse cx="602.4" cy="134.9" rx="1.1" ry="1.35"/>
<ellipse cx="604.3" cy="137.0" rx="1.1" ry="1.35"/>
<ellipse cx="609.8" cy="137.4" rx="1.1" ry="1.35"/>
<ellipse cx="611.7" cy="137.4" rx="1.1" ry="1.35"/>
<ellipse cx="612.7" cy="137.8" rx="1.1" ry="1.35"/>
<ellipse cx="625.4" cy="146.9" rx="1.1" ry="1.35"/>
<ellipse cx="627.6" cy="153.2" rx="1.1" ry="1.35"/>
<ellipse cx="629.5" cy="141.3" rx="1.1" ry="1.35"/>
<ellipse cx="631.4" cy="143.2" rx="1.1" ry="1.35"/>
<ellipse cx="633.3" cy="144.1" rx="1.1" ry="1.35"/>
<ellipse cx="635.4" cy="142.8" rx="1.1" ry="1.35"/>
<ellipse cx="637.3" cy="156.4" rx="1.1" ry="1.35"/>
<ellipse cx="639.2" cy="151.6" rx="1.1" ry="1.35"/>
<ellipse cx="641.1" cy="150.7" rx="1.1" ry="1.35"/>
<ellipse cx="642.9" cy="150.7" rx="1.1" ry="1.35"/>
<ellipse cx="644.8" cy="151.3" rx="1.1" ry="1.35"/>
<ellipse cx="646.7" cy="152.3" rx="1.1" ry="1.35"/>
<ellipse cx="648.8" cy="149.1" rx="1.1" ry="1.35"/>
<ellipse cx="650.7" cy="153.2" rx="1.1" ry="1.35"/>
<ellipse cx="652.6" cy="154.5" rx="1.1" ry="1.35"/>
<ellipse cx="654.6" cy="155.1" rx="1.1" ry="1.35"/>
<ellipse cx="656.5" cy="158.2" rx="1.1" ry="1.35"/>
<ellipse cx="658.4" cy="153.9" rx="1.1" ry="1.35"/>
<ellipse cx="660.5" cy="155.1" rx="1.1" ry="1.35"/>
<ellipse cx="662.4" cy="154.1" rx="1.1" ry="1.35"/>
<ellipse cx="664.5" cy="152.8" rx="1.1" ry="1.35"/>
<ellipse cx="666.4" cy="158.4" rx="1.1" ry="1.35"/>
<ellipse cx="666.4" cy="160.2" rx="1.1" ry="1.35"/>
</g>
<polygon points="632.50,79.90 633.19,81.75 635.16,81.83 633.62,83.06 634.15,84.97 632.50,83.88 630.85,84.97 631.38,83.06 629.84,81.83 631.81,81.75" fill="#00ff00"/>
<text transform="translate(643.50,86.30) scale(0.885,1)" font-size="10.6" text-anchor="start" fill="#111" >LC1931</text>
<polygon points="632.50,93.20 633.19,95.05 635.16,95.13 633.62,96.36 634.15,98.27 632.50,97.18 630.85,98.27 631.38,96.36 629.84,95.13 631.81,95.05" fill="#ff0000"/>
<text transform="translate(643.50,99.60) scale(0.885,1)" font-size="10.6" text-anchor="start" fill="#111" >LC1951</text>
<polygon points="632.50,106.10 633.19,107.95 635.16,108.03 633.62,109.26 634.15,111.17 632.50,110.08 630.85,111.17 631.38,109.26 629.84,108.03 631.81,107.95" fill="#0000ff"/>
<text transform="translate(643.50,112.50) scale(0.885,1)" font-size="10.6" text-anchor="start" fill="#111" >LC2690</text>
</g>
</svg>
</body></html>
